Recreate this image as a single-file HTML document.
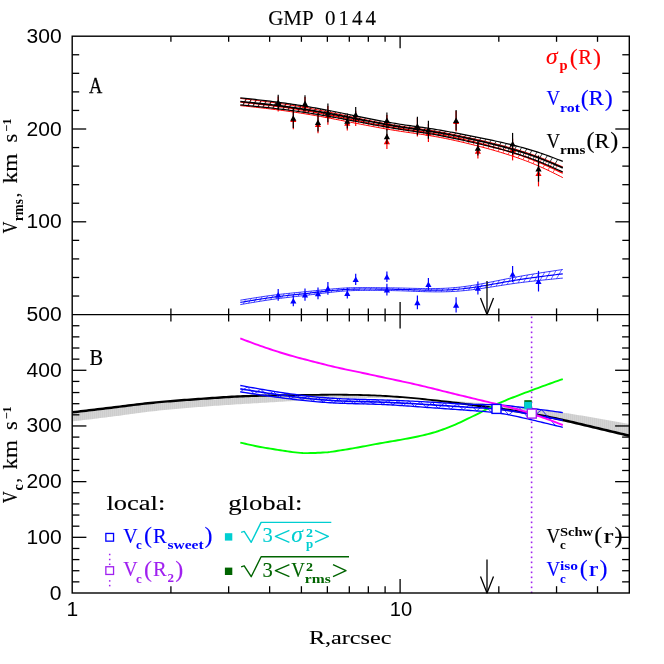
<!DOCTYPE html>
<html><head><meta charset="utf-8"><title>GMP 0144</title>
<style>html,body{margin:0;padding:0;background:#fff}svg{display:block;will-change:transform}</style>
</head><body>
<svg width="664" height="664" viewBox="0 0 664 664">
<rect width="664" height="664" fill="#fff"/>
<defs><pattern id="gp" width="2" height="2" patternUnits="userSpaceOnUse"><rect width="2" height="2" fill="#d6d6d6"/><rect width="1.2" height="2" fill="#cdcdcd"/></pattern><clipPath id="cb"><rect x="72.2" y="314.6" width="557.1" height="278.4"/></clipPath></defs>
<polygon points="72.2,412.3 75,411.97 77.8,411.65 80.6,411.32 83.4,411 86.2,410.67 89,410.34 91.8,410.01 94.6,409.68 97.4,409.35 100.19,409.01 102.99,408.68 105.79,408.34 108.59,408 111.39,407.66 114.19,407.32 116.99,406.97 119.79,406.63 122.59,406.28 125.39,405.92 128.19,405.57 130.99,405.22 133.79,404.87 136.59,404.53 139.39,404.19 142.19,403.86 144.99,403.54 147.79,403.24 150.59,402.94 153.39,402.66 156.18,402.38 158.98,402.12 161.78,401.87 164.58,401.63 167.38,401.39 170.18,401.17 172.98,400.94 175.78,400.72 178.58,400.51 181.38,400.29 184.18,400.08 186.98,399.87 189.78,399.66 192.58,399.45 195.38,399.25 198.18,399.04 200.98,398.84 203.78,398.64 206.58,398.44 209.38,398.24 212.17,398.05 214.97,397.86 217.77,397.67 220.57,397.49 223.37,397.31 226.17,397.14 228.97,396.97 231.77,396.81 234.57,396.66 237.37,396.52 240.17,396.39 242.97,396.27 245.77,396.16 248.57,396.06 251.37,395.97 254.17,395.88 256.97,395.8 259.77,395.73 262.57,395.66 265.37,395.6 268.16,395.55 270.96,395.5 273.76,395.45 276.56,395.4 279.36,395.36 282.16,395.32 284.96,395.27 287.76,395.23 290.56,395.19 293.36,395.15 296.16,395.11 298.96,395.06 301.76,395.02 304.56,394.98 307.36,394.94 310.16,394.9 312.96,394.86 315.76,394.83 318.56,394.8 321.36,394.77 324.15,394.75 326.95,394.73 329.75,394.71 332.55,394.7 335.35,394.7 338.15,394.7 340.95,394.71 343.75,394.73 346.55,394.75 349.35,394.78 352.15,394.82 354.95,394.86 357.75,394.92 360.55,394.98 363.35,395.05 366.15,395.14 368.95,395.23 371.75,395.33 374.55,395.45 377.35,395.57 380.14,395.71 382.94,395.86 385.74,396.02 388.54,396.19 391.34,396.37 394.14,396.56 396.94,396.77 399.74,396.98 402.54,397.2 405.34,397.43 408.14,397.67 410.94,397.92 413.74,398.18 416.54,398.44 419.34,398.71 422.14,398.99 424.94,399.28 427.74,399.57 430.54,399.87 433.34,400.18 436.13,400.49 438.93,400.8 441.73,401.12 444.53,401.45 447.33,401.78 450.13,402.12 452.93,402.46 455.73,402.8 458.53,403.15 461.33,403.51 464.13,403.87 466.93,404.23 469.73,404.6 472.53,404.97 475.33,405.34 478.13,405.72 480.93,406.1 483.73,406.49 486.53,406.87 489.33,407.26 492.12,407.65 494.92,408.05 497.72,408.44 500.52,408.84 503.32,409.24 506.12,409.65 508.92,410.06 511.72,410.48 514.52,410.9 517.32,411.34 520.12,411.78 522.92,412.23 525.72,412.69 528.52,413.17 531.32,413.66 534.12,414.16 536.92,414.67 539.72,415.2 542.52,415.74 545.32,416.29 548.11,416.86 550.91,417.43 553.71,418.02 556.51,418.62 559.31,419.23 562.11,419.85 564.91,420.48 567.71,421.11 570.51,421.76 573.31,422.41 576.11,423.07 578.91,423.74 581.71,424.41 584.51,425.08 587.31,425.75 590.11,426.42 592.91,427.1 595.71,427.77 598.51,428.44 601.31,429.11 604.1,429.77 606.9,430.43 609.7,431.1 612.5,431.76 615.3,432.41 618.1,433.07 620.9,433.73 623.7,434.39 626.5,435.04 629.3,435.7 629.3,424.1 626.5,423.57 623.7,423.04 620.9,422.51 618.1,421.99 615.3,421.46 612.5,420.94 609.7,420.43 606.9,419.91 604.1,419.41 601.31,418.91 598.51,418.41 595.71,417.92 592.91,417.44 590.11,416.97 587.31,416.5 584.51,416.04 581.71,415.58 578.91,415.13 576.11,414.68 573.31,414.24 570.51,413.8 567.71,413.36 564.91,412.93 562.11,412.49 559.31,412.06 556.51,411.63 553.71,411.2 550.91,410.78 548.11,410.36 545.32,409.95 542.52,409.55 539.72,409.15 536.92,408.77 534.12,408.4 531.32,408.04 528.52,407.69 525.72,407.36 522.92,407.04 520.12,406.73 517.32,406.44 514.52,406.15 511.72,405.87 508.92,405.59 506.12,405.33 503.32,405.06 500.52,404.81 497.72,404.55 494.92,404.3 492.12,404.06 489.33,403.81 486.53,403.57 483.73,403.33 480.93,403.09 478.13,402.86 475.33,402.63 472.53,402.4 469.73,402.18 466.93,401.96 464.13,401.74 461.33,401.53 458.53,401.33 455.73,401.12 452.93,400.93 450.13,400.73 447.33,400.55 444.53,400.37 441.73,400.19 438.93,400.02 436.13,399.85 433.34,399.69 430.54,399.54 427.74,399.39 424.94,399.24 422.14,399.11 419.34,398.98 416.54,398.85 413.74,398.74 410.94,398.63 408.14,398.53 405.34,398.44 402.54,398.35 399.74,398.28 396.94,398.21 394.14,398.15 391.34,398.1 388.54,398.06 385.74,398.03 382.94,398.01 380.14,398 377.35,398 374.55,398.01 371.75,398.03 368.95,398.06 366.15,398.1 363.35,398.14 360.55,398.2 357.75,398.26 354.95,398.33 352.15,398.41 349.35,398.49 346.55,398.58 343.75,398.67 340.95,398.77 338.15,398.88 335.35,398.99 332.55,399.1 329.75,399.22 326.95,399.34 324.15,399.46 321.36,399.59 318.56,399.72 315.76,399.85 312.96,399.99 310.16,400.13 307.36,400.27 304.56,400.41 301.76,400.56 298.96,400.71 296.16,400.86 293.36,401.01 290.56,401.17 287.76,401.33 284.96,401.48 282.16,401.64 279.36,401.8 276.56,401.97 273.76,402.13 270.96,402.3 268.16,402.46 265.37,402.63 262.57,402.8 259.77,402.97 256.97,403.14 254.17,403.32 251.37,403.49 248.57,403.66 245.77,403.84 242.97,404.01 240.17,404.19 237.37,404.37 234.57,404.54 231.77,404.72 228.97,404.9 226.17,405.09 223.37,405.27 220.57,405.46 217.77,405.65 214.97,405.85 212.17,406.04 209.38,406.25 206.58,406.45 203.78,406.66 200.98,406.88 198.18,407.09 195.38,407.32 192.58,407.54 189.78,407.77 186.98,408 184.18,408.24 181.38,408.48 178.58,408.72 175.78,408.97 172.98,409.22 170.18,409.48 167.38,409.75 164.58,410.02 161.78,410.3 158.98,410.59 156.18,410.89 153.39,411.2 150.59,411.53 147.79,411.87 144.99,412.22 142.19,412.58 139.39,412.95 136.59,413.33 133.79,413.71 130.99,414.1 128.19,414.48 125.39,414.87 122.59,415.25 119.79,415.63 116.99,416 114.19,416.37 111.39,416.73 108.59,417.08 105.79,417.43 102.99,417.78 100.19,418.12 97.4,418.46 94.6,418.79 91.8,419.13 89,419.46 86.2,419.78 83.4,420.11 80.6,420.43 77.8,420.76 75,421.08 72.2,421.4" fill="url(#gp)" stroke="none" stroke-width="0"/>
<g clip-path="url(#cb)">
<polygon points="72.2,411.05 75,410.73 77.8,410.4 80.6,410.07 83.4,409.75 86.2,409.42 89,409.09 91.8,408.77 94.6,408.44 97.4,408.11 100.19,407.77 102.99,407.44 105.79,407.1 108.59,406.76 111.39,406.42 114.19,406.08 116.99,405.74 119.79,405.39 122.59,405.04 125.39,404.69 128.19,404.34 130.99,403.99 133.79,403.64 136.59,403.3 139.39,402.96 142.19,402.64 144.99,402.32 147.79,402.01 150.59,401.71 153.39,401.43 156.18,401.16 158.98,400.9 161.78,400.65 164.58,400.41 167.38,400.17 170.18,399.95 172.98,399.72 175.78,399.51 178.58,399.29 181.38,399.08 184.18,398.87 186.98,398.65 189.78,398.45 192.58,398.24 195.38,398.03 198.18,397.83 200.98,397.63 203.78,397.43 206.58,397.23 209.38,397.03 212.17,396.84 214.97,396.65 217.77,396.46 220.57,396.28 223.37,396.1 226.17,395.93 228.97,395.77 231.77,395.61 234.57,395.46 237.37,395.32 240.17,395.19 242.97,395.09 245.77,394.99 248.57,394.9 251.37,394.82 254.17,394.75 256.97,394.69 259.77,394.63 262.57,394.58 265.37,394.53 268.16,394.49 270.96,394.45 273.76,394.42 276.56,394.38 279.36,394.35 282.16,394.33 284.96,394.3 287.76,394.27 290.56,394.24 293.36,394.22 296.16,394.19 298.96,394.16 301.76,394.12 304.56,394.08 307.36,394.04 310.16,394 312.96,393.96 315.76,393.93 318.56,393.9 321.36,393.87 324.15,393.85 326.95,393.83 329.75,393.81 332.55,393.8 335.35,393.8 338.15,393.8 340.95,393.81 343.75,393.83 346.55,393.85 349.35,393.88 352.15,393.92 354.95,393.96 357.75,394.02 360.55,394.08 363.35,394.15 366.15,394.24 368.95,394.33 371.75,394.43 374.55,394.55 377.35,394.67 380.14,394.81 382.94,394.96 385.74,395.12 388.54,395.29 391.34,395.47 394.14,395.66 396.94,395.87 399.74,396.08 402.54,396.3 405.34,396.53 408.14,396.77 410.94,397.02 413.74,397.28 416.54,397.54 419.34,397.81 422.14,398.08 424.94,398.36 427.74,398.64 430.54,398.92 433.34,399.22 436.13,399.51 438.93,399.82 441.73,400.13 444.53,400.44 447.33,400.76 450.13,401.08 452.93,401.41 455.73,401.75 458.53,402.09 461.33,402.43 464.13,402.78 466.93,403.13 469.73,403.48 472.53,403.84 475.33,404.2 478.13,404.57 480.93,404.94 483.73,405.31 486.53,405.68 489.33,406.06 492.12,406.44 494.92,406.82 497.72,407.2 500.52,407.59 503.32,407.99 506.12,408.4 508.92,408.81 511.72,409.22 514.52,409.64 517.32,410.07 520.12,410.51 522.92,410.96 525.72,411.43 528.52,411.9 531.32,412.38 534.12,412.88 536.92,413.4 539.72,413.92 542.52,414.46 545.32,415.01 548.11,415.57 550.91,416.15 553.71,416.73 556.51,417.33 559.31,417.93 562.11,418.55 564.91,419.18 567.71,419.82 570.51,420.46 573.31,421.11 576.11,421.77 578.91,422.43 581.71,423.1 584.51,423.77 587.31,424.44 590.11,425.11 592.91,425.78 595.71,426.45 598.51,427.12 601.31,427.78 604.1,428.45 606.9,429.11 609.7,429.77 612.5,430.43 615.3,431.08 618.1,431.74 620.9,432.39 623.7,433.05 626.5,433.7 629.3,434.36 629.3,437.04 626.5,436.38 623.7,435.73 620.9,435.07 618.1,434.41 615.3,433.75 612.5,433.09 609.7,432.42 606.9,431.76 604.1,431.09 601.31,430.43 598.51,429.76 595.71,429.09 592.91,428.41 590.11,427.74 587.31,427.06 584.51,426.39 581.71,425.72 578.91,425.05 576.11,424.38 573.31,423.72 570.51,423.06 567.71,422.41 564.91,421.77 562.11,421.14 559.31,420.52 556.51,419.91 553.71,419.31 550.91,418.72 548.11,418.14 545.32,417.57 542.52,417.02 539.72,416.48 536.92,415.95 534.12,415.43 531.32,414.93 528.52,414.44 525.72,413.96 522.92,413.5 520.12,413.04 517.32,412.6 514.52,412.16 511.72,411.74 508.92,411.32 506.12,410.9 503.32,410.5 500.52,410.09 497.72,409.68 494.92,409.28 492.12,408.87 489.33,408.47 486.53,408.06 483.73,407.67 480.93,407.27 478.13,406.88 475.33,406.49 472.53,406.1 469.73,405.72 466.93,405.34 464.13,404.96 461.33,404.59 458.53,404.22 455.73,403.86 452.93,403.5 450.13,403.15 447.33,402.8 444.53,402.46 441.73,402.12 438.93,401.78 436.13,401.46 433.34,401.13 430.54,400.82 427.74,400.51 424.94,400.2 422.14,399.9 419.34,399.61 416.54,399.34 413.74,399.08 410.94,398.82 408.14,398.57 405.34,398.33 402.54,398.1 399.74,397.88 396.94,397.67 394.14,397.46 391.34,397.27 388.54,397.09 385.74,396.92 382.94,396.76 380.14,396.61 377.35,396.47 374.55,396.35 371.75,396.23 368.95,396.13 366.15,396.04 363.35,395.95 360.55,395.88 357.75,395.82 354.95,395.76 352.15,395.72 349.35,395.68 346.55,395.65 343.75,395.63 340.95,395.61 338.15,395.6 335.35,395.6 332.55,395.6 329.75,395.61 326.95,395.63 324.15,395.65 321.36,395.67 318.56,395.7 315.76,395.73 312.96,395.76 310.16,395.8 307.36,395.84 304.56,395.88 301.76,395.92 298.96,395.97 296.16,396.03 293.36,396.08 290.56,396.14 287.76,396.19 284.96,396.25 282.16,396.3 279.36,396.36 276.56,396.42 273.76,396.48 270.96,396.54 268.16,396.61 265.37,396.68 262.57,396.75 259.77,396.83 256.97,396.92 254.17,397.01 251.37,397.11 248.57,397.22 245.77,397.33 242.97,397.46 240.17,397.59 237.37,397.72 234.57,397.87 231.77,398.02 228.97,398.18 226.17,398.34 223.37,398.51 220.57,398.69 217.77,398.88 214.97,399.07 212.17,399.26 209.38,399.45 206.58,399.65 203.78,399.85 200.98,400.05 198.18,400.25 195.38,400.46 192.58,400.67 189.78,400.88 186.98,401.09 184.18,401.3 181.38,401.51 178.58,401.73 175.78,401.94 172.98,402.16 170.18,402.39 167.38,402.62 164.58,402.85 161.78,403.1 158.98,403.35 156.18,403.61 153.39,403.88 150.59,404.17 147.79,404.46 144.99,404.77 142.19,405.09 139.39,405.42 136.59,405.76 133.79,406.1 130.99,406.45 128.19,406.8 125.39,407.16 122.59,407.51 119.79,407.86 116.99,408.21 114.19,408.56 111.39,408.9 108.59,409.24 105.79,409.58 102.99,409.92 100.19,410.26 97.4,410.59 94.6,410.92 91.8,411.25 89,411.58 86.2,411.91 83.4,412.24 80.6,412.57 77.8,412.9 75,413.22 72.2,413.55" fill="#000" stroke="none" stroke-width="0"/>
</g>
<polyline points="240.3,442.6 242.8,443.19 245.3,443.77 247.8,444.34 250.3,444.9 252.8,445.44 255.3,445.96 257.8,446.46 260.3,446.95 262.8,447.42 265.3,447.86 267.8,448.28 270.3,448.68 272.8,449.06 275.3,449.45 277.8,449.86 280.3,450.26 282.8,450.66 285.3,451.05 287.8,451.43 290.3,451.78 292.8,452.11 295.3,452.4 297.8,452.64 300.3,452.84 302.8,452.99 305.3,453.08 307.8,453.1 310.3,453.07 312.8,453.01 315.3,452.93 317.8,452.82 320.3,452.69 322.8,452.55 325.3,452.4 327.8,452.2 330.3,451.93 332.8,451.59 335.3,451.21 337.8,450.81 340.3,450.4 342.8,449.99 345.3,449.6 347.8,449.2 350.3,448.78 352.8,448.34 355.3,447.9 357.8,447.45 360.3,446.99 362.8,446.52 365.3,446.06 367.8,445.59 370.3,445.12 372.8,444.65 375.3,444.18 377.8,443.73 380.3,443.27 382.8,442.83 385.3,442.4 387.8,441.97 390.3,441.54 392.8,441.12 395.3,440.69 397.8,440.26 400.3,439.83 402.8,439.38 405.3,438.93 407.8,438.47 410.3,437.99 412.8,437.5 415.3,436.98 417.8,436.45 420.3,435.91 422.8,435.34 425.3,434.75 427.8,434.13 430.3,433.48 432.8,432.79 435.3,432.05 437.8,431.26 440.3,430.4 442.8,429.51 445.3,428.57 447.8,427.6 450.3,426.6 452.8,425.59 455.3,424.53 457.8,423.43 460.3,422.29 462.8,421.12 465.3,419.92 467.8,418.71 470.3,417.49 472.8,416.27 475.3,415.05 477.8,413.81 480.3,412.53 482.8,411.23 485.3,409.92 487.8,408.61 490.3,407.32 492.8,406.07 495.3,404.86 497.8,403.72 500.3,402.62 502.8,401.55 505.3,400.51 507.8,399.49 510.3,398.48 512.8,397.5 515.3,396.53 517.8,395.57 520.3,394.62 522.8,393.67 525.3,392.73 527.8,391.79 530.3,390.85 532.8,389.91 535.3,388.97 537.8,388.04 540.3,387.12 542.8,386.2 545.3,385.29 547.8,384.39 550.3,383.49 552.8,382.6 555.3,381.71 557.8,380.83 560.3,379.96 562.8,379.1" fill="none" stroke="#00ff00" stroke-width="1.9" stroke-linejoin="round"/>
<polyline points="240.3,391.9 247.34,386.76 254.15,393.96 260.73,389.13 267.11,395.84 273.29,391.25 279.3,397.52 285.15,393.1 290.86,399 296.45,394.68 301.95,400.29 307.36,396 312.69,401.38 317.97,397.1 323.19,402.26 328.36,397.96 333.48,402.92 338.55,398.6 343.58,403.36 348.56,399.04 353.49,403.66 358.39,399.35 363.26,403.9 368.12,399.6 372.98,404.15 377.87,399.84 382.79,404.52 387.78,400.14 392.87,405.04 398.06,400.52 403.39,405.72 408.87,400.99 414.49,406.51 420.26,401.56 426.16,407.37 432.18,402.25 438.29,408.23 444.45,403 450.68,409.09 456.97,403.71 463.36,409.96 469.9,404.26 476.69,410.93 483.83,404.55 491.47,412.22 499.75,405.05 508.78,414.79 518.65,406.98 529.52,419.35 541.69,409.73 555.44,425.53" fill="none" stroke="#0000ff" stroke-width="0.8" stroke-linejoin="round"/>
<polyline points="240.3,385.5 242.8,385.95 245.3,386.4 247.8,386.85 250.3,387.29 252.8,387.74 255.3,388.18 257.8,388.62 260.3,389.06 262.8,389.49 265.3,389.92 267.8,390.34 270.3,390.76 272.8,391.17 275.3,391.57 277.8,391.97 280.3,392.36 282.8,392.75 285.3,393.12 287.8,393.49 290.3,393.84 292.8,394.19 295.3,394.53 297.8,394.85 300.3,395.17 302.8,395.48 305.3,395.77 307.8,396.06 310.3,396.33 312.8,396.59 315.3,396.84 317.8,397.08 320.3,397.31 322.8,397.52 325.3,397.73 327.8,397.92 330.3,398.1 332.8,398.26 335.3,398.42 337.8,398.56 340.3,398.69 342.8,398.8 345.3,398.91 347.8,399.01 350.3,399.1 352.8,399.18 355.3,399.26 357.8,399.33 360.3,399.4 362.8,399.47 365.3,399.53 367.8,399.59 370.3,399.65 372.8,399.71 375.3,399.77 377.8,399.84 380.3,399.91 382.8,399.98 385.3,400.06 387.8,400.14 390.3,400.23 392.8,400.31 395.3,400.41 397.8,400.51 400.3,400.61 402.8,400.71 405.3,400.82 407.8,400.94 410.3,401.06 412.8,401.18 415.3,401.3 417.8,401.43 420.3,401.57 422.8,401.7 425.3,401.84 427.8,401.99 430.3,402.14 432.8,402.29 435.3,402.44 437.8,402.59 440.3,402.75 442.8,402.9 445.3,403.05 447.8,403.2 450.3,403.35 452.8,403.49 455.3,403.62 457.8,403.75 460.3,403.87 462.8,403.99 465.3,404.09 467.8,404.19 470.3,404.27 472.8,404.35 475.3,404.41 477.8,404.45 480.3,404.5 482.8,404.53 485.3,404.57 487.8,404.61 490.3,404.67 492.8,404.74 495.3,404.83 497.8,404.94 500.3,405.08 502.8,405.26 505.3,405.47 507.8,405.71 510.3,405.98 512.8,406.27 515.3,406.56 517.8,406.87 520.3,407.18 522.8,407.49 525.3,407.79 527.8,408.09 530.3,408.37 532.8,408.66 535.3,408.95 537.8,409.25 540.3,409.56 542.8,409.87 545.3,410.2 547.8,410.53 550.3,410.86 552.8,411.2 555.3,411.55 557.8,411.9 560.3,412.25 562.8,412.6" fill="none" stroke="#0000ff" stroke-width="1.35" stroke-linejoin="round"/>
<polyline points="240.3,391.9 242.8,392.27 245.3,392.65 247.8,393.02 250.3,393.39 252.8,393.76 255.3,394.13 257.8,394.5 260.3,394.86 262.8,395.23 265.3,395.59 267.8,395.94 270.3,396.29 272.8,396.64 275.3,396.98 277.8,397.32 280.3,397.66 282.8,397.99 285.3,398.31 287.8,398.63 290.3,398.94 292.8,399.24 295.3,399.54 297.8,399.83 300.3,400.11 302.8,400.38 305.3,400.65 307.8,400.9 310.3,401.15 312.8,401.39 315.3,401.61 317.8,401.83 320.3,402.03 322.8,402.23 325.3,402.41 327.8,402.58 330.3,402.74 332.8,402.88 335.3,403.02 337.8,403.13 340.3,403.24 342.8,403.34 345.3,403.42 347.8,403.5 350.3,403.58 352.8,403.64 355.3,403.71 357.8,403.77 360.3,403.83 362.8,403.88 365.3,403.94 367.8,404.01 370.3,404.08 372.8,404.15 375.3,404.23 377.8,404.32 380.3,404.41 382.8,404.52 385.3,404.64 387.8,404.76 390.3,404.9 392.8,405.04 395.3,405.19 397.8,405.35 400.3,405.51 402.8,405.67 405.3,405.85 407.8,406.02 410.3,406.2 412.8,406.38 415.3,406.57 417.8,406.75 420.3,406.93 422.8,407.12 425.3,407.3 427.8,407.49 430.3,407.67 432.8,407.84 435.3,408.02 437.8,408.2 440.3,408.37 442.8,408.54 445.3,408.72 447.8,408.89 450.3,409.06 452.8,409.23 455.3,409.4 457.8,409.58 460.3,409.75 462.8,409.92 465.3,410.1 467.8,410.28 470.3,410.46 472.8,410.64 475.3,410.82 477.8,411.01 480.3,411.2 482.8,411.4 485.3,411.62 487.8,411.85 490.3,412.1 492.8,412.37 495.3,412.66 497.8,412.99 500.3,413.34 502.8,413.73 505.3,414.15 507.8,414.61 510.3,415.09 512.8,415.59 515.3,416.12 517.8,416.67 520.3,417.22 522.8,417.79 525.3,418.37 527.8,418.95 530.3,419.53 532.8,420.12 535.3,420.71 537.8,421.3 540.3,421.9 542.8,422.5 545.3,423.09 547.8,423.69 550.3,424.29 552.8,424.89 555.3,425.49 557.8,426.1 560.3,426.7 562.8,427.3" fill="none" stroke="#0000ff" stroke-width="1.35" stroke-linejoin="round"/>
<polyline points="240.3,388.9 242.8,389.29 245.3,389.69 247.8,390.08 250.3,390.48 252.8,390.87 255.3,391.26 257.8,391.64 260.3,392.03 262.8,392.41 265.3,392.79 267.8,393.17 270.3,393.54 272.8,393.91 275.3,394.27 277.8,394.63 280.3,394.98 282.8,395.33 285.3,395.67 287.8,396.01 290.3,396.34 292.8,396.66 295.3,396.98 297.8,397.29 300.3,397.59 302.8,397.88 305.3,398.16 307.8,398.43 310.3,398.7 312.8,398.95 315.3,399.19 317.8,399.43 320.3,399.65 322.8,399.86 325.3,400.06 327.8,400.24 330.3,400.41 332.8,400.57 335.3,400.72 337.8,400.85 340.3,400.97 342.8,401.07 345.3,401.17 347.8,401.26 350.3,401.34 352.8,401.41 355.3,401.48 357.8,401.54 360.3,401.6 362.8,401.66 365.3,401.72 367.8,401.78 370.3,401.84 372.8,401.9 375.3,401.96 377.8,402.03 380.3,402.11 382.8,402.19 385.3,402.28 387.8,402.38 390.3,402.48 392.8,402.59 395.3,402.71 397.8,402.83 400.3,402.96 402.8,403.09 405.3,403.22 407.8,403.36 410.3,403.5 412.8,403.65 415.3,403.8 417.8,403.95 420.3,404.11 422.8,404.27 425.3,404.43 427.8,404.59 430.3,404.75 432.8,404.91 435.3,405.08 437.8,405.25 440.3,405.41 442.8,405.58 445.3,405.74 447.8,405.91 450.3,406.07 452.8,406.24 455.3,406.4 457.8,406.56 460.3,406.72 462.8,406.88 465.3,407.03 467.8,407.18 470.3,407.33 472.8,407.48 475.3,407.62 477.8,407.76 480.3,407.89 482.8,408.04 485.3,408.18 487.8,408.34 490.3,408.52 492.8,408.7 495.3,408.91 497.8,409.15 500.3,409.41 502.8,409.7 505.3,410.02 507.8,410.37 510.3,410.74 512.8,411.13 515.3,411.54 517.8,411.97 520.3,412.4 522.8,412.84 525.3,413.28 527.8,413.73 530.3,414.17 532.8,414.62 535.3,415.07 537.8,415.53 540.3,415.98 542.8,416.44 545.3,416.91 547.8,417.37 550.3,417.84 552.8,418.31 555.3,418.78 557.8,419.25 560.3,419.73 562.8,420.2" fill="none" stroke="#0000ff" stroke-width="1.6" stroke-linejoin="round"/>
<polyline points="240.3,338.4 242.8,339.36 245.3,340.32 247.8,341.26 250.3,342.19 252.8,343.11 255.3,344.02 257.8,344.92 260.3,345.8 262.8,346.66 265.3,347.53 267.8,348.38 270.3,349.23 272.8,350.07 275.3,350.89 277.8,351.7 280.3,352.5 282.8,353.27 285.3,354.03 287.8,354.77 290.3,355.49 292.8,356.19 295.3,356.87 297.8,357.55 300.3,358.21 302.8,358.87 305.3,359.52 307.8,360.16 310.3,360.81 312.8,361.46 315.3,362.11 317.8,362.76 320.3,363.4 322.8,364.04 325.3,364.67 327.8,365.3 330.3,365.92 332.8,366.52 335.3,367.11 337.8,367.69 340.3,368.25 342.8,368.8 345.3,369.33 347.8,369.85 350.3,370.37 352.8,370.88 355.3,371.39 357.8,371.91 360.3,372.43 362.8,372.96 365.3,373.5 367.8,374.04 370.3,374.58 372.8,375.13 375.3,375.68 377.8,376.22 380.3,376.77 382.8,377.3 385.3,377.84 387.8,378.37 390.3,378.9 392.8,379.43 395.3,379.96 397.8,380.49 400.3,381.02 402.8,381.56 405.3,382.09 407.8,382.64 410.3,383.19 412.8,383.75 415.3,384.32 417.8,384.89 420.3,385.48 422.8,386.08 425.3,386.68 427.8,387.3 430.3,387.92 432.8,388.54 435.3,389.17 437.8,389.79 440.3,390.42 442.8,391.05 445.3,391.67 447.8,392.29 450.3,392.91 452.8,393.52 455.3,394.13 457.8,394.73 460.3,395.34 462.8,395.94 465.3,396.54 467.8,397.14 470.3,397.74 472.8,398.34 475.3,398.95 477.8,399.55 480.3,400.15 482.8,400.75 485.3,401.35 487.8,401.95 490.3,402.56 492.8,403.16 495.3,403.75 497.8,404.36 500.3,404.97 502.8,405.6 505.3,406.24 507.8,406.88 510.3,407.52 512.8,408.18 515.3,408.84 517.8,409.52 520.3,410.21 522.8,410.93 525.3,411.66 527.8,412.42 530.3,413.22 532.8,414.04 535.3,414.88 537.8,415.75 540.3,416.63 542.8,417.52 545.3,418.41 547.8,419.31 550.3,420.22 552.8,421.15 555.3,422.09 557.8,423.05 560.3,424.02 562.8,425" fill="none" stroke="#ff00ff" stroke-width="1.9" stroke-linejoin="round"/>
<rect x="530.8" y="316.55" width="1.6" height="1.6" fill="#a020f0"/>
<rect x="530.8" y="321.55" width="1.6" height="1.6" fill="#a020f0"/>
<rect x="530.8" y="326.55" width="1.6" height="1.6" fill="#a020f0"/>
<rect x="530.8" y="331.55" width="1.6" height="1.6" fill="#a020f0"/>
<rect x="530.8" y="336.55" width="1.6" height="1.6" fill="#a020f0"/>
<rect x="530.8" y="341.55" width="1.6" height="1.6" fill="#a020f0"/>
<rect x="530.8" y="346.55" width="1.6" height="1.6" fill="#a020f0"/>
<rect x="530.8" y="351.55" width="1.6" height="1.6" fill="#a020f0"/>
<rect x="530.8" y="356.55" width="1.6" height="1.6" fill="#a020f0"/>
<rect x="530.8" y="361.55" width="1.6" height="1.6" fill="#a020f0"/>
<rect x="530.8" y="366.55" width="1.6" height="1.6" fill="#a020f0"/>
<rect x="530.8" y="371.55" width="1.6" height="1.6" fill="#a020f0"/>
<rect x="530.8" y="376.55" width="1.6" height="1.6" fill="#a020f0"/>
<rect x="530.8" y="381.55" width="1.6" height="1.6" fill="#a020f0"/>
<rect x="530.8" y="386.55" width="1.6" height="1.6" fill="#a020f0"/>
<rect x="530.8" y="391.55" width="1.6" height="1.6" fill="#a020f0"/>
<rect x="530.8" y="396.55" width="1.6" height="1.6" fill="#a020f0"/>
<rect x="530.8" y="401.55" width="1.6" height="1.6" fill="#a020f0"/>
<rect x="530.8" y="406.55" width="1.6" height="1.6" fill="#a020f0"/>
<rect x="530.8" y="411.55" width="1.6" height="1.6" fill="#a020f0"/>
<rect x="530.8" y="416.55" width="1.6" height="1.6" fill="#a020f0"/>
<rect x="530.8" y="421.55" width="1.6" height="1.6" fill="#a020f0"/>
<rect x="530.8" y="426.55" width="1.6" height="1.6" fill="#a020f0"/>
<rect x="530.8" y="431.55" width="1.6" height="1.6" fill="#a020f0"/>
<rect x="530.8" y="436.55" width="1.6" height="1.6" fill="#a020f0"/>
<rect x="530.8" y="441.55" width="1.6" height="1.6" fill="#a020f0"/>
<rect x="530.8" y="446.55" width="1.6" height="1.6" fill="#a020f0"/>
<rect x="530.8" y="451.55" width="1.6" height="1.6" fill="#a020f0"/>
<rect x="530.8" y="456.55" width="1.6" height="1.6" fill="#a020f0"/>
<rect x="530.8" y="461.55" width="1.6" height="1.6" fill="#a020f0"/>
<rect x="530.8" y="466.55" width="1.6" height="1.6" fill="#a020f0"/>
<rect x="530.8" y="471.55" width="1.6" height="1.6" fill="#a020f0"/>
<rect x="530.8" y="476.55" width="1.6" height="1.6" fill="#a020f0"/>
<rect x="530.8" y="481.55" width="1.6" height="1.6" fill="#a020f0"/>
<rect x="530.8" y="486.55" width="1.6" height="1.6" fill="#a020f0"/>
<rect x="530.8" y="491.55" width="1.6" height="1.6" fill="#a020f0"/>
<rect x="530.8" y="496.55" width="1.6" height="1.6" fill="#a020f0"/>
<rect x="530.8" y="501.55" width="1.6" height="1.6" fill="#a020f0"/>
<rect x="530.8" y="506.55" width="1.6" height="1.6" fill="#a020f0"/>
<rect x="530.8" y="511.55" width="1.6" height="1.6" fill="#a020f0"/>
<rect x="530.8" y="516.55" width="1.6" height="1.6" fill="#a020f0"/>
<rect x="530.8" y="521.55" width="1.6" height="1.6" fill="#a020f0"/>
<rect x="530.8" y="526.55" width="1.6" height="1.6" fill="#a020f0"/>
<rect x="530.8" y="531.55" width="1.6" height="1.6" fill="#a020f0"/>
<rect x="530.8" y="536.55" width="1.6" height="1.6" fill="#a020f0"/>
<rect x="530.8" y="541.55" width="1.6" height="1.6" fill="#a020f0"/>
<rect x="530.8" y="546.55" width="1.6" height="1.6" fill="#a020f0"/>
<rect x="530.8" y="551.55" width="1.6" height="1.6" fill="#a020f0"/>
<rect x="530.8" y="556.55" width="1.6" height="1.6" fill="#a020f0"/>
<rect x="530.8" y="561.55" width="1.6" height="1.6" fill="#a020f0"/>
<rect x="530.8" y="566.55" width="1.6" height="1.6" fill="#a020f0"/>
<rect x="530.8" y="571.55" width="1.6" height="1.6" fill="#a020f0"/>
<rect x="530.8" y="576.55" width="1.6" height="1.6" fill="#a020f0"/>
<rect x="530.8" y="581.55" width="1.6" height="1.6" fill="#a020f0"/>
<rect x="530.8" y="586.55" width="1.6" height="1.6" fill="#a020f0"/>
<rect x="530.8" y="591.55" width="1.6" height="1.6" fill="#a020f0"/>
<rect x="524.3" y="400.2" width="7.5" height="7.5" fill="#006400"/>
<rect x="524.3" y="401.8" width="7.5" height="7.5" fill="#00ced1"/>
<rect x="492" y="404.4" width="9" height="9" fill="#fff" stroke="#0000ff" stroke-width="1.4"/>
<rect x="527.3" y="409.1" width="9" height="9" fill="#fff" stroke="#a020f0" stroke-width="1.4"/>
<line x1="242.8" y1="105.88" x2="246.38" y2="99.14" stroke="#ff0000" stroke-width="0.7"/>
<line x1="247.8" y1="106.4" x2="251.35" y2="99.73" stroke="#ff0000" stroke-width="0.7"/>
<line x1="252.8" y1="106.94" x2="256.32" y2="100.34" stroke="#ff0000" stroke-width="0.7"/>
<line x1="257.8" y1="107.49" x2="261.28" y2="100.96" stroke="#ff0000" stroke-width="0.7"/>
<line x1="262.8" y1="108.05" x2="266.25" y2="101.6" stroke="#ff0000" stroke-width="0.7"/>
<line x1="267.8" y1="108.64" x2="271.22" y2="102.26" stroke="#ff0000" stroke-width="0.7"/>
<line x1="272.8" y1="109.24" x2="276.18" y2="102.94" stroke="#ff0000" stroke-width="0.7"/>
<line x1="277.8" y1="109.87" x2="281.15" y2="103.65" stroke="#ff0000" stroke-width="0.7"/>
<line x1="282.8" y1="110.53" x2="286.12" y2="104.39" stroke="#ff0000" stroke-width="0.7"/>
<line x1="287.8" y1="111.22" x2="291.08" y2="105.16" stroke="#ff0000" stroke-width="0.7"/>
<line x1="292.8" y1="111.93" x2="296.05" y2="105.96" stroke="#ff0000" stroke-width="0.7"/>
<line x1="297.8" y1="112.68" x2="301.02" y2="106.79" stroke="#ff0000" stroke-width="0.7"/>
<line x1="302.8" y1="113.46" x2="305.98" y2="107.65" stroke="#ff0000" stroke-width="0.7"/>
<line x1="307.8" y1="114.27" x2="310.95" y2="108.54" stroke="#ff0000" stroke-width="0.7"/>
<line x1="312.8" y1="115.11" x2="315.91" y2="109.47" stroke="#ff0000" stroke-width="0.7"/>
<line x1="317.8" y1="115.98" x2="320.88" y2="110.43" stroke="#ff0000" stroke-width="0.7"/>
<line x1="322.8" y1="116.88" x2="325.84" y2="111.41" stroke="#ff0000" stroke-width="0.7"/>
<line x1="327.8" y1="117.81" x2="330.8" y2="112.43" stroke="#ff0000" stroke-width="0.7"/>
<line x1="332.8" y1="118.76" x2="335.76" y2="113.46" stroke="#ff0000" stroke-width="0.7"/>
<line x1="337.8" y1="119.74" x2="340.72" y2="114.51" stroke="#ff0000" stroke-width="0.7"/>
<line x1="342.8" y1="120.72" x2="345.68" y2="115.57" stroke="#ff0000" stroke-width="0.7"/>
<line x1="347.8" y1="121.7" x2="350.64" y2="116.62" stroke="#ff0000" stroke-width="0.7"/>
<line x1="352.8" y1="122.69" x2="355.61" y2="117.66" stroke="#ff0000" stroke-width="0.7"/>
<line x1="357.8" y1="123.66" x2="360.57" y2="118.7" stroke="#ff0000" stroke-width="0.7"/>
<line x1="362.8" y1="124.63" x2="365.54" y2="119.72" stroke="#ff0000" stroke-width="0.7"/>
<line x1="367.8" y1="125.59" x2="370.5" y2="120.72" stroke="#ff0000" stroke-width="0.7"/>
<line x1="372.8" y1="126.53" x2="375.48" y2="121.71" stroke="#ff0000" stroke-width="0.7"/>
<line x1="377.8" y1="127.46" x2="380.45" y2="122.66" stroke="#ff0000" stroke-width="0.7"/>
<line x1="382.8" y1="128.36" x2="385.43" y2="123.58" stroke="#ff0000" stroke-width="0.7"/>
<line x1="387.8" y1="129.24" x2="390.42" y2="124.47" stroke="#ff0000" stroke-width="0.7"/>
<line x1="392.8" y1="130.08" x2="395.4" y2="125.3" stroke="#ff0000" stroke-width="0.7"/>
<line x1="397.8" y1="130.89" x2="400.4" y2="126.09" stroke="#ff0000" stroke-width="0.7"/>
<line x1="402.8" y1="131.65" x2="405.4" y2="126.82" stroke="#ff0000" stroke-width="0.7"/>
<line x1="407.8" y1="132.38" x2="410.41" y2="127.52" stroke="#ff0000" stroke-width="0.7"/>
<line x1="412.8" y1="133.09" x2="415.42" y2="128.2" stroke="#ff0000" stroke-width="0.7"/>
<line x1="417.8" y1="133.8" x2="420.44" y2="128.88" stroke="#ff0000" stroke-width="0.7"/>
<line x1="422.8" y1="134.54" x2="425.46" y2="129.59" stroke="#ff0000" stroke-width="0.7"/>
<line x1="427.8" y1="135.31" x2="430.49" y2="130.34" stroke="#ff0000" stroke-width="0.7"/>
<line x1="432.8" y1="136.14" x2="435.52" y2="131.15" stroke="#ff0000" stroke-width="0.7"/>
<line x1="437.8" y1="137.03" x2="440.55" y2="132.02" stroke="#ff0000" stroke-width="0.7"/>
<line x1="442.8" y1="137.98" x2="445.58" y2="132.93" stroke="#ff0000" stroke-width="0.7"/>
<line x1="447.8" y1="138.99" x2="450.62" y2="133.9" stroke="#ff0000" stroke-width="0.7"/>
<line x1="452.8" y1="140.05" x2="455.66" y2="134.9" stroke="#ff0000" stroke-width="0.7"/>
<line x1="457.8" y1="141.16" x2="460.71" y2="135.94" stroke="#ff0000" stroke-width="0.7"/>
<line x1="462.8" y1="142.31" x2="465.76" y2="137.02" stroke="#ff0000" stroke-width="0.7"/>
<line x1="467.8" y1="143.5" x2="470.82" y2="138.12" stroke="#ff0000" stroke-width="0.7"/>
<line x1="472.8" y1="144.73" x2="475.89" y2="139.24" stroke="#ff0000" stroke-width="0.7"/>
<line x1="477.8" y1="145.99" x2="480.96" y2="140.39" stroke="#ff0000" stroke-width="0.7"/>
<line x1="482.8" y1="147.29" x2="486.04" y2="141.57" stroke="#ff0000" stroke-width="0.7"/>
<line x1="487.8" y1="148.64" x2="491.13" y2="142.79" stroke="#ff0000" stroke-width="0.7"/>
<line x1="492.8" y1="150.04" x2="496.22" y2="144.05" stroke="#ff0000" stroke-width="0.7"/>
<line x1="497.8" y1="151.49" x2="501.32" y2="145.36" stroke="#ff0000" stroke-width="0.7"/>
<line x1="502.8" y1="153" x2="506.42" y2="146.72" stroke="#ff0000" stroke-width="0.7"/>
<line x1="507.8" y1="154.57" x2="511.54" y2="148.14" stroke="#ff0000" stroke-width="0.7"/>
<line x1="512.8" y1="156.2" x2="516.65" y2="149.62" stroke="#ff0000" stroke-width="0.7"/>
<line x1="517.8" y1="157.91" x2="521.78" y2="151.17" stroke="#ff0000" stroke-width="0.7"/>
<line x1="522.8" y1="159.69" x2="526.9" y2="152.8" stroke="#ff0000" stroke-width="0.7"/>
<line x1="527.8" y1="161.57" x2="532.04" y2="154.52" stroke="#ff0000" stroke-width="0.7"/>
<line x1="532.8" y1="163.55" x2="537.18" y2="156.36" stroke="#ff0000" stroke-width="0.7"/>
<line x1="537.8" y1="165.64" x2="542.33" y2="158.31" stroke="#ff0000" stroke-width="0.7"/>
<line x1="542.8" y1="167.86" x2="547.48" y2="160.38" stroke="#ff0000" stroke-width="0.7"/>
<line x1="547.8" y1="170.2" x2="552.65" y2="162.53" stroke="#ff0000" stroke-width="0.7"/>
<line x1="552.8" y1="172.62" x2="557.81" y2="164.74" stroke="#ff0000" stroke-width="0.7"/>
<polyline points="240.3,98.41 242.8,98.71 245.3,99.01 247.8,99.3 250.3,99.6 252.8,99.91 255.3,100.21 257.8,100.52 260.3,100.84 262.8,101.15 265.3,101.48 267.8,101.8 270.3,102.14 272.8,102.47 275.3,102.82 277.8,103.17 280.3,103.53 282.8,103.89 285.3,104.27 287.8,104.65 290.3,105.04 292.8,105.43 295.3,105.83 297.8,106.25 300.3,106.66 302.8,107.09 305.3,107.53 307.8,107.97 310.3,108.42 312.8,108.88 315.3,109.35 317.8,109.83 320.3,110.31 322.8,110.8 325.3,111.3 327.8,111.81 330.3,112.32 332.8,112.84 335.3,113.36 337.8,113.89 340.3,114.42 342.8,114.95 345.3,115.48 347.8,116.02 350.3,116.55 352.8,117.07 355.3,117.6 357.8,118.12 360.3,118.64 362.8,119.16 365.3,119.67 367.8,120.18 370.3,120.68 372.8,121.18 375.3,121.67 377.8,122.16 380.3,122.63 382.8,123.1 385.3,123.56 387.8,124.01 390.3,124.45 392.8,124.87 395.3,125.29 397.8,125.69 400.3,126.07 402.8,126.45 405.3,126.81 407.8,127.16 410.3,127.5 412.8,127.85 415.3,128.18 417.8,128.52 420.3,128.87 422.8,129.21 425.3,129.57 427.8,129.93 430.3,130.31 432.8,130.71 435.3,131.12 437.8,131.54 440.3,131.97 442.8,132.42 445.3,132.88 447.8,133.35 450.3,133.83 452.8,134.32 455.3,134.83 457.8,135.34 460.3,135.86 462.8,136.38 465.3,136.92 467.8,137.46 470.3,138 472.8,138.55 475.3,139.11 477.8,139.67 480.3,140.24 482.8,140.81 485.3,141.39 487.8,141.99 490.3,142.59 492.8,143.2 495.3,143.82 497.8,144.45 500.3,145.09 502.8,145.75 505.3,146.42 507.8,147.1 510.3,147.79 512.8,148.5 515.3,149.22 517.8,149.96 520.3,150.71 522.8,151.48 525.3,152.28 527.8,153.09 530.3,153.92 532.8,154.79 535.3,155.67 537.8,156.58 540.3,157.53 542.8,158.5 545.3,159.49 547.8,160.51 550.3,161.54 552.8,162.59 555.3,163.66 557.8,164.74 560.3,165.82 562.8,166.91" fill="none" stroke="#ff0000" stroke-width="1" stroke-linejoin="round"/>
<polyline points="240.3,105.61 242.8,105.88 245.3,106.14 247.8,106.4 250.3,106.67 252.8,106.94 255.3,107.21 257.8,107.49 260.3,107.77 262.8,108.05 265.3,108.34 267.8,108.64 270.3,108.94 272.8,109.24 275.3,109.55 277.8,109.87 280.3,110.2 282.8,110.53 285.3,110.87 287.8,111.22 290.3,111.57 292.8,111.93 295.3,112.3 297.8,112.68 300.3,113.07 302.8,113.46 305.3,113.86 307.8,114.27 310.3,114.68 312.8,115.11 315.3,115.54 317.8,115.98 320.3,116.43 322.8,116.88 325.3,117.34 327.8,117.81 330.3,118.29 332.8,118.76 335.3,119.25 337.8,119.74 340.3,120.23 342.8,120.72 345.3,121.21 347.8,121.7 350.3,122.2 352.8,122.69 355.3,123.18 357.8,123.66 360.3,124.15 362.8,124.63 365.3,125.11 367.8,125.59 370.3,126.06 372.8,126.53 375.3,127 377.8,127.46 380.3,127.91 382.8,128.36 385.3,128.81 387.8,129.24 390.3,129.67 392.8,130.08 395.3,130.49 397.8,130.89 400.3,131.27 402.8,131.65 405.3,132.02 407.8,132.38 410.3,132.74 412.8,133.09 415.3,133.45 417.8,133.8 420.3,134.17 422.8,134.54 425.3,134.92 427.8,135.31 430.3,135.72 432.8,136.14 435.3,136.58 437.8,137.03 440.3,137.5 442.8,137.98 445.3,138.48 447.8,138.99 450.3,139.51 452.8,140.05 455.3,140.6 457.8,141.16 460.3,141.73 462.8,142.31 465.3,142.9 467.8,143.5 470.3,144.11 472.8,144.73 475.3,145.36 477.8,145.99 480.3,146.64 482.8,147.29 485.3,147.96 487.8,148.64 490.3,149.33 492.8,150.04 495.3,150.76 497.8,151.49 500.3,152.24 502.8,153 505.3,153.78 507.8,154.57 510.3,155.38 512.8,156.2 515.3,157.05 517.8,157.91 520.3,158.79 522.8,159.69 525.3,160.62 527.8,161.57 530.3,162.54 532.8,163.55 535.3,164.58 537.8,165.64 540.3,166.74 542.8,167.86 545.3,169.02 547.8,170.2 550.3,171.4 552.8,172.62 555.3,173.85 557.8,175.09 560.3,176.35 562.8,177.61" fill="none" stroke="#ff0000" stroke-width="1" stroke-linejoin="round"/>
<polyline points="240.3,102.01 242.8,102.29 245.3,102.57 247.8,102.84 250.3,103.12 252.8,103.41 255.3,103.69 257.8,103.98 260.3,104.28 262.8,104.57 265.3,104.88 267.8,105.18 270.3,105.5 272.8,105.81 275.3,106.14 277.8,106.47 280.3,106.81 282.8,107.16 285.3,107.51 287.8,107.87 290.3,108.24 292.8,108.62 295.3,109 297.8,109.39 300.3,109.79 302.8,110.2 305.3,110.61 307.8,111.04 310.3,111.47 312.8,111.91 315.3,112.36 317.8,112.81 320.3,113.28 322.8,113.75 325.3,114.23 327.8,114.71 330.3,115.2 332.8,115.7 335.3,116.2 337.8,116.71 340.3,117.22 342.8,117.73 345.3,118.24 347.8,118.75 350.3,119.26 352.8,119.77 355.3,120.27 357.8,120.78 360.3,121.28 362.8,121.78 365.3,122.28 367.8,122.77 370.3,123.26 372.8,123.74 375.3,124.22 377.8,124.69 380.3,125.16 382.8,125.62 385.3,126.07 387.8,126.51 390.3,126.95 392.8,127.37 395.3,127.78 397.8,128.19 400.3,128.57 402.8,128.95 405.3,129.32 407.8,129.68 410.3,130.03 412.8,130.38 415.3,130.73 417.8,131.08 420.3,131.43 422.8,131.79 425.3,132.15 427.8,132.53 430.3,132.91 432.8,133.32 435.3,133.73 437.8,134.16 440.3,134.6 442.8,135.06 445.3,135.52 447.8,136.01 450.3,136.5 452.8,137.01 455.3,137.53 457.8,138.06 460.3,138.61 462.8,139.17 465.3,139.74 467.8,140.32 470.3,140.91 472.8,141.51 475.3,142.13 477.8,142.75 480.3,143.39 482.8,144.03 485.3,144.69 487.8,145.37 490.3,146.05 492.8,146.75 495.3,147.46 497.8,148.18 500.3,148.92 502.8,149.67 505.3,150.43 507.8,151.21 510.3,152 512.8,152.8 515.3,153.62 517.8,154.45 520.3,155.3 522.8,156.16 525.3,157.05 527.8,157.96 530.3,158.89 532.8,159.85 535.3,160.84 537.8,161.86 540.3,162.9 542.8,163.98 545.3,165.08 547.8,166.21 550.3,167.36 552.8,168.53 555.3,169.71 557.8,170.9 560.3,172.1 562.8,173.31" fill="none" stroke="#ff0000" stroke-width="1.2" stroke-linejoin="round"/>
<line x1="278.2" y1="96.53" x2="278.2" y2="111.53" stroke="#ff0000" stroke-width="1.2"/>
<polygon points="275.1,106.83 281.3,106.83 278.2,101.23" fill="#ff0000" stroke="none" stroke-width="0"/>
<line x1="293.3" y1="109.38" x2="293.3" y2="129.18" stroke="#ff0000" stroke-width="1.2"/>
<polygon points="290.2,122.08 296.4,122.08 293.3,116.48" fill="#ff0000" stroke="none" stroke-width="0"/>
<line x1="305" y1="96.95" x2="305" y2="113.35" stroke="#ff0000" stroke-width="1.2"/>
<polygon points="301.9,107.95 308.1,107.95 305,102.35" fill="#ff0000" stroke="none" stroke-width="0"/>
<line x1="318" y1="115.17" x2="318" y2="133.37" stroke="#ff0000" stroke-width="1.2"/>
<polygon points="314.9,127.07 321.1,127.07 318,121.47" fill="#ff0000" stroke="none" stroke-width="0"/>
<line x1="327.9" y1="105.92" x2="327.9" y2="124.72" stroke="#ff0000" stroke-width="1.2"/>
<polygon points="324.8,118.12 331,118.12 327.9,112.52" fill="#ff0000" stroke="none" stroke-width="0"/>
<line x1="347.3" y1="115.59" x2="347.3" y2="130.39" stroke="#ff0000" stroke-width="1.2"/>
<polygon points="344.2,125.79 350.4,125.79 347.3,120.19" fill="#ff0000" stroke="none" stroke-width="0"/>
<line x1="355.7" y1="110.84" x2="355.7" y2="126.04" stroke="#ff0000" stroke-width="1.2"/>
<polygon points="352.6,121.24 358.8,121.24 355.7,115.64" fill="#ff0000" stroke="none" stroke-width="0"/>
<line x1="386.9" y1="114.92" x2="386.9" y2="130.52" stroke="#ff0000" stroke-width="1.2"/>
<polygon points="383.8,125.52 390,125.52 386.9,119.92" fill="#ff0000" stroke="none" stroke-width="0"/>
<line x1="386.9" y1="133.76" x2="386.9" y2="148.96" stroke="#ff0000" stroke-width="1.2"/>
<polygon points="383.8,144.16 390,144.16 386.9,138.56" fill="#ff0000" stroke="none" stroke-width="0"/>
<line x1="417.4" y1="117.9" x2="417.4" y2="136.5" stroke="#ff0000" stroke-width="1.2"/>
<polygon points="414.3,130 420.5,130 417.4,124.4" fill="#ff0000" stroke="none" stroke-width="0"/>
<line x1="428.4" y1="124.02" x2="428.4" y2="142.02" stroke="#ff0000" stroke-width="1.2"/>
<polygon points="425.3,135.82 431.5,135.82 428.4,130.22" fill="#ff0000" stroke="none" stroke-width="0"/>
<line x1="456.1" y1="111.04" x2="456.1" y2="131.44" stroke="#ff0000" stroke-width="1.2"/>
<polygon points="453,124.04 459.2,124.04 456.1,118.44" fill="#ff0000" stroke="none" stroke-width="0"/>
<line x1="477.9" y1="143.34" x2="477.9" y2="158.54" stroke="#ff0000" stroke-width="1.2"/>
<polygon points="474.8,153.74 481,153.74 477.9,148.14" fill="#ff0000" stroke="none" stroke-width="0"/>
<line x1="512.6" y1="138.6" x2="512.6" y2="160.4" stroke="#ff0000" stroke-width="1.2"/>
<polygon points="509.5,152.3 515.7,152.3 512.6,146.7" fill="#ff0000" stroke="none" stroke-width="0"/>
<line x1="538.5" y1="160.17" x2="538.5" y2="186.37" stroke="#ff0000" stroke-width="1.2"/>
<polygon points="535.4,176.07 541.6,176.07 538.5,170.47" fill="#ff0000" stroke="none" stroke-width="0"/>
<line x1="242.8" y1="105.14" x2="246.33" y2="98.46" stroke="#000" stroke-width="0.8"/>
<line x1="247.8" y1="105.62" x2="251.3" y2="99.01" stroke="#000" stroke-width="0.8"/>
<line x1="252.8" y1="106.11" x2="256.27" y2="99.56" stroke="#000" stroke-width="0.8"/>
<line x1="257.8" y1="106.61" x2="261.23" y2="100.13" stroke="#000" stroke-width="0.8"/>
<line x1="262.8" y1="107.12" x2="266.2" y2="100.72" stroke="#000" stroke-width="0.8"/>
<line x1="267.8" y1="107.65" x2="271.17" y2="101.33" stroke="#000" stroke-width="0.8"/>
<line x1="272.8" y1="108.2" x2="276.13" y2="101.96" stroke="#000" stroke-width="0.8"/>
<line x1="277.8" y1="108.78" x2="281.1" y2="102.62" stroke="#000" stroke-width="0.8"/>
<line x1="282.8" y1="109.38" x2="286.07" y2="103.31" stroke="#000" stroke-width="0.8"/>
<line x1="287.8" y1="110.02" x2="291.03" y2="104.02" stroke="#000" stroke-width="0.8"/>
<line x1="292.8" y1="110.69" x2="296" y2="104.77" stroke="#000" stroke-width="0.8"/>
<line x1="297.8" y1="111.39" x2="300.97" y2="105.55" stroke="#000" stroke-width="0.8"/>
<line x1="302.8" y1="112.11" x2="305.93" y2="106.36" stroke="#000" stroke-width="0.8"/>
<line x1="307.8" y1="112.87" x2="310.9" y2="107.2" stroke="#000" stroke-width="0.8"/>
<line x1="312.8" y1="113.65" x2="315.86" y2="108.06" stroke="#000" stroke-width="0.8"/>
<line x1="317.8" y1="114.46" x2="320.83" y2="108.96" stroke="#000" stroke-width="0.8"/>
<line x1="322.8" y1="115.3" x2="325.79" y2="109.88" stroke="#000" stroke-width="0.8"/>
<line x1="327.8" y1="116.16" x2="330.75" y2="110.83" stroke="#000" stroke-width="0.8"/>
<line x1="332.8" y1="117.06" x2="335.71" y2="111.81" stroke="#000" stroke-width="0.8"/>
<line x1="337.8" y1="117.97" x2="340.67" y2="112.8" stroke="#000" stroke-width="0.8"/>
<line x1="342.8" y1="118.9" x2="345.63" y2="113.81" stroke="#000" stroke-width="0.8"/>
<line x1="347.8" y1="119.85" x2="350.59" y2="114.83" stroke="#000" stroke-width="0.8"/>
<line x1="352.8" y1="120.8" x2="355.56" y2="115.85" stroke="#000" stroke-width="0.8"/>
<line x1="357.8" y1="121.76" x2="360.52" y2="116.87" stroke="#000" stroke-width="0.8"/>
<line x1="362.8" y1="122.71" x2="365.49" y2="117.88" stroke="#000" stroke-width="0.8"/>
<line x1="367.8" y1="123.66" x2="370.45" y2="118.88" stroke="#000" stroke-width="0.8"/>
<line x1="372.8" y1="124.6" x2="375.43" y2="119.86" stroke="#000" stroke-width="0.8"/>
<line x1="377.8" y1="125.52" x2="380.4" y2="120.81" stroke="#000" stroke-width="0.8"/>
<line x1="382.8" y1="126.42" x2="385.38" y2="121.73" stroke="#000" stroke-width="0.8"/>
<line x1="387.8" y1="127.3" x2="390.37" y2="122.62" stroke="#000" stroke-width="0.8"/>
<line x1="392.8" y1="128.14" x2="395.35" y2="123.46" stroke="#000" stroke-width="0.8"/>
<line x1="397.8" y1="128.95" x2="400.35" y2="124.25" stroke="#000" stroke-width="0.8"/>
<line x1="402.8" y1="129.73" x2="405.35" y2="125" stroke="#000" stroke-width="0.8"/>
<line x1="407.8" y1="130.47" x2="410.36" y2="125.71" stroke="#000" stroke-width="0.8"/>
<line x1="412.8" y1="131.19" x2="415.37" y2="126.41" stroke="#000" stroke-width="0.8"/>
<line x1="417.8" y1="131.92" x2="420.39" y2="127.1" stroke="#000" stroke-width="0.8"/>
<line x1="422.8" y1="132.67" x2="425.41" y2="127.82" stroke="#000" stroke-width="0.8"/>
<line x1="427.8" y1="133.44" x2="430.44" y2="128.57" stroke="#000" stroke-width="0.8"/>
<line x1="432.8" y1="134.27" x2="435.47" y2="129.37" stroke="#000" stroke-width="0.8"/>
<line x1="437.8" y1="135.15" x2="440.5" y2="130.22" stroke="#000" stroke-width="0.8"/>
<line x1="442.8" y1="136.08" x2="445.53" y2="131.11" stroke="#000" stroke-width="0.8"/>
<line x1="447.8" y1="137.06" x2="450.57" y2="132.03" stroke="#000" stroke-width="0.8"/>
<line x1="452.8" y1="138.08" x2="455.61" y2="132.99" stroke="#000" stroke-width="0.8"/>
<line x1="457.8" y1="139.13" x2="460.66" y2="133.96" stroke="#000" stroke-width="0.8"/>
<line x1="462.8" y1="140.21" x2="465.71" y2="134.95" stroke="#000" stroke-width="0.8"/>
<line x1="467.8" y1="141.31" x2="470.77" y2="135.95" stroke="#000" stroke-width="0.8"/>
<line x1="472.8" y1="142.43" x2="475.84" y2="136.96" stroke="#000" stroke-width="0.8"/>
<line x1="477.8" y1="143.57" x2="480.91" y2="137.98" stroke="#000" stroke-width="0.8"/>
<line x1="482.8" y1="144.74" x2="485.99" y2="139.01" stroke="#000" stroke-width="0.8"/>
<line x1="487.8" y1="145.94" x2="491.08" y2="140.07" stroke="#000" stroke-width="0.8"/>
<line x1="492.8" y1="147.18" x2="496.17" y2="141.17" stroke="#000" stroke-width="0.8"/>
<line x1="497.8" y1="148.46" x2="501.27" y2="142.3" stroke="#000" stroke-width="0.8"/>
<line x1="502.8" y1="149.79" x2="506.37" y2="143.47" stroke="#000" stroke-width="0.8"/>
<line x1="507.8" y1="151.18" x2="511.49" y2="144.7" stroke="#000" stroke-width="0.8"/>
<line x1="512.8" y1="152.63" x2="516.6" y2="145.99" stroke="#000" stroke-width="0.8"/>
<line x1="517.8" y1="154.15" x2="521.73" y2="147.35" stroke="#000" stroke-width="0.8"/>
<line x1="522.8" y1="155.75" x2="526.85" y2="148.78" stroke="#000" stroke-width="0.8"/>
<line x1="527.8" y1="157.43" x2="531.99" y2="150.31" stroke="#000" stroke-width="0.8"/>
<line x1="532.8" y1="159.22" x2="537.13" y2="151.95" stroke="#000" stroke-width="0.8"/>
<line x1="537.8" y1="161.12" x2="542.28" y2="153.7" stroke="#000" stroke-width="0.8"/>
<line x1="542.8" y1="163.15" x2="547.43" y2="155.54" stroke="#000" stroke-width="0.8"/>
<line x1="547.8" y1="165.27" x2="552.6" y2="157.47" stroke="#000" stroke-width="0.8"/>
<line x1="552.8" y1="167.47" x2="557.76" y2="159.45" stroke="#000" stroke-width="0.8"/>
<polyline points="240.3,97.8 242.8,98.07 245.3,98.35 247.8,98.62 250.3,98.9 252.8,99.17 255.3,99.45 257.8,99.74 260.3,100.02 262.8,100.32 265.3,100.61 267.8,100.91 270.3,101.22 272.8,101.53 275.3,101.85 277.8,102.17 280.3,102.51 282.8,102.85 285.3,103.2 287.8,103.55 290.3,103.92 292.8,104.29 295.3,104.67 297.8,105.05 300.3,105.45 302.8,105.85 305.3,106.25 307.8,106.67 310.3,107.09 312.8,107.52 315.3,107.96 317.8,108.41 320.3,108.86 322.8,109.32 325.3,109.79 327.8,110.26 330.3,110.74 332.8,111.23 335.3,111.73 337.8,112.22 340.3,112.73 342.8,113.24 345.3,113.75 347.8,114.26 350.3,114.77 352.8,115.29 355.3,115.8 357.8,116.31 360.3,116.83 362.8,117.34 365.3,117.85 367.8,118.35 370.3,118.85 372.8,119.34 375.3,119.83 377.8,120.32 380.3,120.79 382.8,121.26 385.3,121.72 387.8,122.17 390.3,122.61 392.8,123.03 395.3,123.45 397.8,123.85 400.3,124.25 402.8,124.62 405.3,124.99 407.8,125.35 410.3,125.7 412.8,126.05 415.3,126.4 417.8,126.74 420.3,127.09 422.8,127.44 425.3,127.8 427.8,128.17 430.3,128.55 432.8,128.94 435.3,129.34 437.8,129.76 440.3,130.19 442.8,130.62 445.3,131.07 447.8,131.52 450.3,131.98 452.8,132.45 455.3,132.93 457.8,133.41 460.3,133.89 462.8,134.38 465.3,134.87 467.8,135.36 470.3,135.86 472.8,136.35 475.3,136.85 477.8,137.35 480.3,137.85 482.8,138.36 485.3,138.87 487.8,139.39 490.3,139.91 492.8,140.44 495.3,140.98 497.8,141.52 500.3,142.08 502.8,142.64 505.3,143.22 507.8,143.81 510.3,144.41 512.8,145.02 515.3,145.65 517.8,146.3 520.3,146.96 522.8,147.64 525.3,148.34 527.8,149.06 530.3,149.8 532.8,150.56 535.3,151.35 537.8,152.17 540.3,153.01 542.8,153.88 545.3,154.77 547.8,155.68 550.3,156.61 552.8,157.55 555.3,158.5 557.8,159.46 560.3,160.43 562.8,161.4" fill="none" stroke="#000" stroke-width="1.2" stroke-linejoin="round"/>
<polyline points="240.3,104.9 242.8,105.14 245.3,105.38 247.8,105.62 250.3,105.86 252.8,106.11 255.3,106.36 257.8,106.61 260.3,106.86 262.8,107.12 265.3,107.38 267.8,107.65 270.3,107.92 272.8,108.2 275.3,108.48 277.8,108.78 280.3,109.08 282.8,109.38 285.3,109.7 287.8,110.02 290.3,110.35 292.8,110.69 295.3,111.03 297.8,111.39 300.3,111.75 302.8,112.11 305.3,112.49 307.8,112.87 310.3,113.25 312.8,113.65 315.3,114.05 317.8,114.46 320.3,114.88 322.8,115.3 325.3,115.73 327.8,116.16 330.3,116.61 332.8,117.06 335.3,117.51 337.8,117.97 340.3,118.44 342.8,118.9 345.3,119.37 347.8,119.85 350.3,120.32 352.8,120.8 355.3,121.28 357.8,121.76 360.3,122.23 362.8,122.71 365.3,123.19 367.8,123.66 370.3,124.13 372.8,124.6 375.3,125.06 377.8,125.52 380.3,125.97 382.8,126.42 385.3,126.86 387.8,127.3 390.3,127.72 392.8,128.14 395.3,128.55 397.8,128.95 400.3,129.35 402.8,129.73 405.3,130.1 407.8,130.47 410.3,130.83 412.8,131.19 415.3,131.56 417.8,131.92 420.3,132.29 422.8,132.67 425.3,133.05 427.8,133.44 430.3,133.85 432.8,134.27 435.3,134.7 437.8,135.15 440.3,135.61 442.8,136.08 445.3,136.57 447.8,137.06 450.3,137.56 452.8,138.08 455.3,138.6 457.8,139.13 460.3,139.66 462.8,140.21 465.3,140.75 467.8,141.31 470.3,141.87 472.8,142.43 475.3,143 477.8,143.57 480.3,144.15 482.8,144.74 485.3,145.34 487.8,145.94 490.3,146.55 492.8,147.18 495.3,147.81 497.8,148.46 500.3,149.12 502.8,149.79 505.3,150.48 507.8,151.18 510.3,151.9 512.8,152.63 515.3,153.38 517.8,154.15 520.3,154.94 522.8,155.75 525.3,156.58 527.8,157.43 530.3,158.31 532.8,159.22 535.3,160.16 537.8,161.12 540.3,162.12 542.8,163.15 545.3,164.2 547.8,165.27 550.3,166.36 552.8,167.47 555.3,168.59 557.8,169.72 560.3,170.86 562.8,172" fill="none" stroke="#000" stroke-width="1.2" stroke-linejoin="round"/>
<polyline points="240.3,101.5 242.8,101.75 245.3,102.01 247.8,102.26 250.3,102.52 252.8,102.77 255.3,103.03 257.8,103.3 260.3,103.56 262.8,103.84 265.3,104.11 267.8,104.39 270.3,104.68 272.8,104.97 275.3,105.27 277.8,105.58 280.3,105.89 282.8,106.21 285.3,106.54 287.8,106.88 290.3,107.22 292.8,107.57 295.3,107.93 297.8,108.3 300.3,108.67 302.8,109.05 305.3,109.44 307.8,109.84 310.3,110.24 312.8,110.65 315.3,111.07 317.8,111.49 320.3,111.92 322.8,112.36 325.3,112.81 327.8,113.26 330.3,113.72 332.8,114.19 335.3,114.66 337.8,115.14 340.3,115.62 342.8,116.11 345.3,116.6 347.8,117.09 350.3,117.59 352.8,118.08 355.3,118.58 357.8,119.07 360.3,119.57 362.8,120.06 365.3,120.55 367.8,121.04 370.3,121.52 372.8,122.01 375.3,122.48 377.8,122.95 380.3,123.42 382.8,123.88 385.3,124.33 387.8,124.77 390.3,125.21 392.8,125.63 395.3,126.05 397.8,126.45 400.3,126.85 402.8,127.23 405.3,127.6 407.8,127.97 410.3,128.33 412.8,128.68 415.3,129.04 417.8,129.39 420.3,129.75 422.8,130.11 425.3,130.48 427.8,130.86 430.3,131.25 432.8,131.65 435.3,132.06 437.8,132.48 440.3,132.91 442.8,133.36 445.3,133.81 447.8,134.28 450.3,134.75 452.8,135.24 455.3,135.73 457.8,136.23 460.3,136.74 462.8,137.26 465.3,137.79 467.8,138.32 470.3,138.87 472.8,139.41 475.3,139.97 477.8,140.53 480.3,141.1 482.8,141.68 485.3,142.27 487.8,142.87 490.3,143.47 492.8,144.09 495.3,144.72 497.8,145.36 500.3,146.01 502.8,146.67 505.3,147.34 507.8,148.02 510.3,148.72 512.8,149.43 515.3,150.15 517.8,150.89 520.3,151.65 522.8,152.42 525.3,153.21 527.8,154.03 530.3,154.87 532.8,155.73 535.3,156.62 537.8,157.54 540.3,158.49 542.8,159.46 545.3,160.46 547.8,161.48 550.3,162.52 552.8,163.58 555.3,164.65 557.8,165.73 560.3,166.81 562.8,167.9" fill="none" stroke="#000" stroke-width="1.7" stroke-linejoin="round"/>
<line x1="278.2" y1="94.8" x2="278.2" y2="109.8" stroke="#000" stroke-width="1.2"/>
<polygon points="275.1,105.1 281.3,105.1 278.2,99.5" fill="#000" stroke="none" stroke-width="0"/>
<line x1="293.3" y1="108.1" x2="293.3" y2="127.9" stroke="#000" stroke-width="1.2"/>
<polygon points="290.2,120.8 296.4,120.8 293.3,115.2" fill="#000" stroke="none" stroke-width="0"/>
<line x1="305" y1="95.2" x2="305" y2="111.6" stroke="#000" stroke-width="1.2"/>
<polygon points="301.9,106.2 308.1,106.2 305,100.6" fill="#000" stroke="none" stroke-width="0"/>
<line x1="318" y1="113.2" x2="318" y2="131.4" stroke="#000" stroke-width="1.2"/>
<polygon points="314.9,125.1 321.1,125.1 318,119.5" fill="#000" stroke="none" stroke-width="0"/>
<line x1="327.9" y1="103.4" x2="327.9" y2="122.2" stroke="#000" stroke-width="1.2"/>
<polygon points="324.8,115.6 331,115.6 327.9,110" fill="#000" stroke="none" stroke-width="0"/>
<line x1="347.3" y1="113.6" x2="347.3" y2="128.4" stroke="#000" stroke-width="1.2"/>
<polygon points="344.2,123.8 350.4,123.8 347.3,118.2" fill="#000" stroke="none" stroke-width="0"/>
<line x1="355.7" y1="106.9" x2="355.7" y2="122.1" stroke="#000" stroke-width="1.2"/>
<polygon points="352.6,117.3 358.8,117.3 355.7,111.7" fill="#000" stroke="none" stroke-width="0"/>
<line x1="386.9" y1="112.5" x2="386.9" y2="128.1" stroke="#000" stroke-width="1.2"/>
<polygon points="383.8,123.1 390,123.1 386.9,117.5" fill="#000" stroke="none" stroke-width="0"/>
<line x1="386.9" y1="128.9" x2="386.9" y2="144.1" stroke="#000" stroke-width="1.2"/>
<polygon points="383.8,139.3 390,139.3 386.9,133.7" fill="#000" stroke="none" stroke-width="0"/>
<line x1="417.4" y1="116.7" x2="417.4" y2="135.3" stroke="#000" stroke-width="1.2"/>
<polygon points="414.3,128.8 420.5,128.8 417.4,123.2" fill="#000" stroke="none" stroke-width="0"/>
<line x1="428.4" y1="120.7" x2="428.4" y2="138.7" stroke="#000" stroke-width="1.2"/>
<polygon points="425.3,132.5 431.5,132.5 428.4,126.9" fill="#000" stroke="none" stroke-width="0"/>
<line x1="456.1" y1="110" x2="456.1" y2="130.4" stroke="#000" stroke-width="1.2"/>
<polygon points="453,123 459.2,123 456.1,117.4" fill="#000" stroke="none" stroke-width="0"/>
<line x1="477.9" y1="140.4" x2="477.9" y2="155.6" stroke="#000" stroke-width="1.2"/>
<polygon points="474.8,150.8 481,150.8 477.9,145.2" fill="#000" stroke="none" stroke-width="0"/>
<line x1="512.6" y1="132.9" x2="512.6" y2="154.7" stroke="#000" stroke-width="1.2"/>
<polygon points="509.5,146.6 515.7,146.6 512.6,141" fill="#000" stroke="none" stroke-width="0"/>
<line x1="538.5" y1="155.5" x2="538.5" y2="181.7" stroke="#000" stroke-width="1.2"/>
<polygon points="535.4,171.4 541.6,171.4 538.5,165.8" fill="#000" stroke="none" stroke-width="0"/>
<line x1="243.05" y1="304.13" x2="245.81" y2="299.3" stroke="#0000ff" stroke-width="0.6"/>
<line x1="248.55" y1="303.19" x2="251.28" y2="298.41" stroke="#0000ff" stroke-width="0.6"/>
<line x1="254.05" y1="302.27" x2="256.76" y2="297.55" stroke="#0000ff" stroke-width="0.6"/>
<line x1="259.55" y1="301.37" x2="262.23" y2="296.71" stroke="#0000ff" stroke-width="0.6"/>
<line x1="265.05" y1="300.5" x2="267.7" y2="295.91" stroke="#0000ff" stroke-width="0.6"/>
<line x1="270.55" y1="299.68" x2="273.17" y2="295.17" stroke="#0000ff" stroke-width="0.6"/>
<line x1="276.05" y1="298.91" x2="278.64" y2="294.48" stroke="#0000ff" stroke-width="0.6"/>
<line x1="281.55" y1="298.19" x2="284.1" y2="293.86" stroke="#0000ff" stroke-width="0.6"/>
<line x1="287.05" y1="297.52" x2="289.56" y2="293.28" stroke="#0000ff" stroke-width="0.6"/>
<line x1="292.55" y1="296.89" x2="295.01" y2="292.73" stroke="#0000ff" stroke-width="0.6"/>
<line x1="298.05" y1="296.26" x2="300.46" y2="292.2" stroke="#0000ff" stroke-width="0.6"/>
<line x1="303.55" y1="295.63" x2="305.91" y2="291.65" stroke="#0000ff" stroke-width="0.6"/>
<line x1="309.05" y1="294.97" x2="311.35" y2="291.08" stroke="#0000ff" stroke-width="0.6"/>
<line x1="314.55" y1="294.29" x2="316.78" y2="290.5" stroke="#0000ff" stroke-width="0.6"/>
<line x1="320.05" y1="293.6" x2="322.22" y2="289.94" stroke="#0000ff" stroke-width="0.6"/>
<line x1="325.55" y1="292.93" x2="327.65" y2="289.39" stroke="#0000ff" stroke-width="0.6"/>
<line x1="331.05" y1="292.3" x2="333.09" y2="288.88" stroke="#0000ff" stroke-width="0.6"/>
<line x1="336.55" y1="291.72" x2="338.52" y2="288.44" stroke="#0000ff" stroke-width="0.6"/>
<line x1="342.05" y1="291.23" x2="343.97" y2="288.08" stroke="#0000ff" stroke-width="0.6"/>
<line x1="347.55" y1="290.85" x2="349.41" y2="287.82" stroke="#0000ff" stroke-width="0.6"/>
<line x1="353.05" y1="290.6" x2="354.86" y2="287.68" stroke="#0000ff" stroke-width="0.6"/>
<line x1="358.55" y1="290.45" x2="360.32" y2="287.62" stroke="#0000ff" stroke-width="0.6"/>
<line x1="364.05" y1="290.38" x2="365.79" y2="287.62" stroke="#0000ff" stroke-width="0.6"/>
<line x1="369.55" y1="290.36" x2="371.27" y2="287.64" stroke="#0000ff" stroke-width="0.6"/>
<line x1="375.05" y1="290.38" x2="376.76" y2="287.68" stroke="#0000ff" stroke-width="0.6"/>
<line x1="380.55" y1="290.41" x2="382.25" y2="287.73" stroke="#0000ff" stroke-width="0.6"/>
<line x1="386.05" y1="290.48" x2="387.76" y2="287.79" stroke="#0000ff" stroke-width="0.6"/>
<line x1="391.55" y1="290.58" x2="393.27" y2="287.87" stroke="#0000ff" stroke-width="0.6"/>
<line x1="397.05" y1="290.71" x2="398.79" y2="287.98" stroke="#0000ff" stroke-width="0.6"/>
<line x1="402.55" y1="290.88" x2="404.32" y2="288.11" stroke="#0000ff" stroke-width="0.6"/>
<line x1="408.05" y1="291.08" x2="409.86" y2="288.26" stroke="#0000ff" stroke-width="0.6"/>
<line x1="413.55" y1="291.29" x2="415.4" y2="288.4" stroke="#0000ff" stroke-width="0.6"/>
<line x1="419.05" y1="291.49" x2="420.95" y2="288.52" stroke="#0000ff" stroke-width="0.6"/>
<line x1="424.55" y1="291.67" x2="426.5" y2="288.59" stroke="#0000ff" stroke-width="0.6"/>
<line x1="430.05" y1="291.8" x2="432.07" y2="288.59" stroke="#0000ff" stroke-width="0.6"/>
<line x1="435.55" y1="291.87" x2="437.64" y2="288.52" stroke="#0000ff" stroke-width="0.6"/>
<line x1="441.05" y1="291.85" x2="443.21" y2="288.34" stroke="#0000ff" stroke-width="0.6"/>
<line x1="446.55" y1="291.74" x2="448.79" y2="288.05" stroke="#0000ff" stroke-width="0.6"/>
<line x1="452.05" y1="291.53" x2="454.38" y2="287.64" stroke="#0000ff" stroke-width="0.6"/>
<line x1="457.55" y1="291.2" x2="459.98" y2="287.08" stroke="#0000ff" stroke-width="0.6"/>
<line x1="463.05" y1="290.74" x2="465.58" y2="286.39" stroke="#0000ff" stroke-width="0.6"/>
<line x1="468.55" y1="290.17" x2="471.19" y2="285.58" stroke="#0000ff" stroke-width="0.6"/>
<line x1="474.05" y1="289.5" x2="476.81" y2="284.66" stroke="#0000ff" stroke-width="0.6"/>
<line x1="479.55" y1="288.76" x2="482.44" y2="283.65" stroke="#0000ff" stroke-width="0.6"/>
<line x1="485.05" y1="287.96" x2="488.07" y2="282.58" stroke="#0000ff" stroke-width="0.6"/>
<line x1="490.55" y1="287.12" x2="493.72" y2="281.45" stroke="#0000ff" stroke-width="0.6"/>
<line x1="496.05" y1="286.25" x2="499.37" y2="280.31" stroke="#0000ff" stroke-width="0.6"/>
<line x1="501.55" y1="285.38" x2="505.02" y2="279.16" stroke="#0000ff" stroke-width="0.6"/>
<line x1="507.05" y1="284.52" x2="510.69" y2="278.04" stroke="#0000ff" stroke-width="0.6"/>
<line x1="512.55" y1="283.71" x2="516.35" y2="276.96" stroke="#0000ff" stroke-width="0.6"/>
<line x1="518.05" y1="282.95" x2="522.02" y2="275.94" stroke="#0000ff" stroke-width="0.6"/>
<line x1="523.55" y1="282.25" x2="527.69" y2="274.96" stroke="#0000ff" stroke-width="0.6"/>
<line x1="529.05" y1="281.59" x2="533.37" y2="274.03" stroke="#0000ff" stroke-width="0.6"/>
<line x1="534.55" y1="280.97" x2="539.04" y2="273.12" stroke="#0000ff" stroke-width="0.6"/>
<line x1="540.05" y1="280.38" x2="544.72" y2="272.23" stroke="#0000ff" stroke-width="0.6"/>
<line x1="545.55" y1="279.81" x2="550.4" y2="271.36" stroke="#0000ff" stroke-width="0.6"/>
<line x1="551.05" y1="279.25" x2="556.08" y2="270.51" stroke="#0000ff" stroke-width="0.6"/>
<line x1="556.55" y1="278.71" x2="561.76" y2="269.66" stroke="#0000ff" stroke-width="0.6"/>
<polyline points="240.3,300.2 242.8,299.79 245.3,299.38 247.8,298.97 250.3,298.57 252.8,298.17 255.3,297.77 257.8,297.38 260.3,297 262.8,296.62 265.3,296.26 267.8,295.9 270.3,295.55 272.8,295.22 275.3,294.89 277.8,294.58 280.3,294.28 282.8,294 285.3,293.73 287.8,293.46 290.3,293.21 292.8,292.95 295.3,292.71 297.8,292.46 300.3,292.21 302.8,291.96 305.3,291.71 307.8,291.45 310.3,291.19 312.8,290.93 315.3,290.66 317.8,290.4 320.3,290.13 322.8,289.88 325.3,289.62 327.8,289.37 330.3,289.13 332.8,288.91 335.3,288.69 337.8,288.49 340.3,288.31 342.8,288.14 345.3,288 347.8,287.88 350.3,287.79 352.8,287.72 355.3,287.67 357.8,287.64 360.3,287.62 362.8,287.61 365.3,287.62 367.8,287.63 370.3,287.64 372.8,287.65 375.3,287.67 377.8,287.69 380.3,287.71 382.8,287.73 385.3,287.76 387.8,287.79 390.3,287.83 392.8,287.86 395.3,287.91 397.8,287.96 400.3,288.01 402.8,288.07 405.3,288.14 407.8,288.2 410.3,288.27 412.8,288.34 415.3,288.4 417.8,288.45 420.3,288.5 422.8,288.55 425.3,288.58 427.8,288.6 430.3,288.6 432.8,288.59 435.3,288.56 437.8,288.51 440.3,288.45 442.8,288.36 445.3,288.25 447.8,288.12 450.3,287.96 452.8,287.77 455.3,287.56 457.8,287.32 460.3,287.05 462.8,286.75 465.3,286.43 467.8,286.08 470.3,285.72 472.8,285.33 475.3,284.92 477.8,284.49 480.3,284.05 482.8,283.59 485.3,283.11 487.8,282.63 490.3,282.14 492.8,281.64 495.3,281.14 497.8,280.63 500.3,280.12 502.8,279.61 505.3,279.1 507.8,278.6 510.3,278.11 512.8,277.63 515.3,277.15 517.8,276.69 520.3,276.24 522.8,275.8 525.3,275.37 527.8,274.95 530.3,274.53 532.8,274.12 535.3,273.71 537.8,273.32 540.3,272.92 542.8,272.53 545.3,272.14 547.8,271.76 550.3,271.38 552.8,271 555.3,270.62 557.8,270.25 560.3,269.87 562.8,269.5" fill="none" stroke="#0000ff" stroke-width="0.8" stroke-linejoin="round"/>
<polyline points="240.3,304.6 242.8,304.17 245.3,303.75 247.8,303.32 250.3,302.9 252.8,302.48 255.3,302.06 257.8,301.65 260.3,301.25 262.8,300.85 265.3,300.46 267.8,300.08 270.3,299.71 272.8,299.35 275.3,299.01 277.8,298.67 280.3,298.35 282.8,298.03 285.3,297.73 287.8,297.44 290.3,297.15 292.8,296.86 295.3,296.58 297.8,296.29 300.3,296.01 302.8,295.72 305.3,295.42 307.8,295.12 310.3,294.81 312.8,294.5 315.3,294.19 317.8,293.88 320.3,293.57 322.8,293.26 325.3,292.96 327.8,292.67 330.3,292.38 332.8,292.11 335.3,291.85 337.8,291.6 340.3,291.38 342.8,291.17 345.3,290.99 347.8,290.83 350.3,290.71 352.8,290.6 355.3,290.52 357.8,290.46 360.3,290.42 362.8,290.39 365.3,290.37 367.8,290.37 370.3,290.36 372.8,290.37 375.3,290.38 377.8,290.39 380.3,290.41 382.8,290.44 385.3,290.47 387.8,290.51 390.3,290.55 392.8,290.6 395.3,290.66 397.8,290.73 400.3,290.8 402.8,290.89 405.3,290.97 407.8,291.07 410.3,291.16 412.8,291.26 415.3,291.36 417.8,291.45 420.3,291.54 422.8,291.62 425.3,291.69 427.8,291.75 430.3,291.81 432.8,291.84 435.3,291.87 437.8,291.87 440.3,291.86 442.8,291.83 445.3,291.78 447.8,291.71 450.3,291.61 452.8,291.49 455.3,291.35 457.8,291.18 460.3,290.98 462.8,290.76 465.3,290.52 467.8,290.25 470.3,289.97 472.8,289.66 475.3,289.34 477.8,289.01 480.3,288.66 482.8,288.3 485.3,287.92 487.8,287.54 490.3,287.15 492.8,286.76 495.3,286.37 497.8,285.97 500.3,285.57 502.8,285.18 505.3,284.79 507.8,284.41 510.3,284.04 512.8,283.67 515.3,283.32 517.8,282.98 520.3,282.66 522.8,282.34 525.3,282.03 527.8,281.74 530.3,281.45 532.8,281.16 535.3,280.89 537.8,280.62 540.3,280.35 542.8,280.09 545.3,279.83 547.8,279.58 550.3,279.33 552.8,279.08 555.3,278.83 557.8,278.59 560.3,278.34 562.8,278.1" fill="none" stroke="#0000ff" stroke-width="0.8" stroke-linejoin="round"/>
<polyline points="240.3,302.4 242.8,301.98 245.3,301.56 247.8,301.15 250.3,300.73 252.8,300.32 255.3,299.92 257.8,299.52 260.3,299.12 262.8,298.74 265.3,298.36 267.8,297.99 270.3,297.63 272.8,297.28 275.3,296.95 277.8,296.63 280.3,296.32 282.8,296.02 285.3,295.73 287.8,295.45 290.3,295.18 292.8,294.91 295.3,294.64 297.8,294.38 300.3,294.11 302.8,293.84 305.3,293.57 307.8,293.29 310.3,293 312.8,292.72 315.3,292.43 317.8,292.14 320.3,291.85 322.8,291.57 325.3,291.29 327.8,291.02 330.3,290.76 332.8,290.51 335.3,290.27 337.8,290.05 340.3,289.84 342.8,289.66 345.3,289.5 347.8,289.36 350.3,289.25 352.8,289.16 355.3,289.1 357.8,289.05 360.3,289.02 362.8,289 365.3,288.99 367.8,289 370.3,289 372.8,289.01 375.3,289.02 377.8,289.04 380.3,289.06 382.8,289.08 385.3,289.11 387.8,289.15 390.3,289.19 392.8,289.23 395.3,289.29 397.8,289.34 400.3,289.41 402.8,289.48 405.3,289.56 407.8,289.64 410.3,289.72 412.8,289.8 415.3,289.88 417.8,289.95 420.3,290.02 422.8,290.08 425.3,290.13 427.8,290.17 430.3,290.2 432.8,290.22 435.3,290.21 437.8,290.19 440.3,290.15 442.8,290.09 445.3,290.01 447.8,289.91 450.3,289.79 452.8,289.63 455.3,289.45 457.8,289.25 460.3,289.02 462.8,288.76 465.3,288.47 467.8,288.17 470.3,287.84 472.8,287.49 475.3,287.13 477.8,286.75 480.3,286.35 482.8,285.94 485.3,285.52 487.8,285.09 490.3,284.65 492.8,284.2 495.3,283.75 497.8,283.3 500.3,282.85 502.8,282.39 505.3,281.95 507.8,281.51 510.3,281.07 512.8,280.65 515.3,280.24 517.8,279.84 520.3,279.45 522.8,279.07 525.3,278.7 527.8,278.34 530.3,277.99 532.8,277.64 535.3,277.3 537.8,276.97 540.3,276.64 542.8,276.31 545.3,275.99 547.8,275.67 550.3,275.35 552.8,275.04 555.3,274.73 557.8,274.42 560.3,274.11 562.8,273.8" fill="none" stroke="#0000ff" stroke-width="1.2" stroke-linejoin="round"/>
<line x1="278.2" y1="288.9" x2="278.2" y2="300.7" stroke="#0000ff" stroke-width="1.2"/>
<polygon points="275.1,297.6 281.3,297.6 278.2,292" fill="#0000ff" stroke="none" stroke-width="0"/>
<line x1="293.3" y1="295.4" x2="293.3" y2="306.2" stroke="#0000ff" stroke-width="1.2"/>
<polygon points="290.2,303.6 296.4,303.6 293.3,298" fill="#0000ff" stroke="none" stroke-width="0"/>
<line x1="305" y1="288.5" x2="305" y2="300.7" stroke="#0000ff" stroke-width="1.2"/>
<polygon points="301.9,297.4 308.1,297.4 305,291.8" fill="#0000ff" stroke="none" stroke-width="0"/>
<line x1="318" y1="287.5" x2="318" y2="299.3" stroke="#0000ff" stroke-width="1.2"/>
<polygon points="314.9,296.2 321.1,296.2 318,290.6" fill="#0000ff" stroke="none" stroke-width="0"/>
<line x1="327.9" y1="281.9" x2="327.9" y2="294.7" stroke="#0000ff" stroke-width="1.2"/>
<polygon points="324.8,291.1 331,291.1 327.9,285.5" fill="#0000ff" stroke="none" stroke-width="0"/>
<line x1="347.3" y1="287.8" x2="347.3" y2="298.6" stroke="#0000ff" stroke-width="1.2"/>
<polygon points="344.2,296 350.4,296 347.3,290.4" fill="#0000ff" stroke="none" stroke-width="0"/>
<line x1="355.7" y1="273.7" x2="355.7" y2="284.9" stroke="#0000ff" stroke-width="1.2"/>
<polygon points="352.6,282.1 358.8,282.1 355.7,276.5" fill="#0000ff" stroke="none" stroke-width="0"/>
<line x1="386.9" y1="283.7" x2="386.9" y2="295.5" stroke="#0000ff" stroke-width="1.2"/>
<polygon points="383.8,292.4 390,292.4 386.9,286.8" fill="#0000ff" stroke="none" stroke-width="0"/>
<line x1="386.9" y1="271.6" x2="386.9" y2="282" stroke="#0000ff" stroke-width="1.2"/>
<polygon points="383.8,279.6 390,279.6 386.9,274" fill="#0000ff" stroke="none" stroke-width="0"/>
<line x1="417.4" y1="295.5" x2="417.4" y2="309.3" stroke="#0000ff" stroke-width="1.2"/>
<polygon points="414.3,305.2 420.5,305.2 417.4,299.6" fill="#0000ff" stroke="none" stroke-width="0"/>
<line x1="428.4" y1="278.1" x2="428.4" y2="290.3" stroke="#0000ff" stroke-width="1.2"/>
<polygon points="425.3,287 431.5,287 428.4,281.4" fill="#0000ff" stroke="none" stroke-width="0"/>
<line x1="456.1" y1="297.2" x2="456.1" y2="312.6" stroke="#0000ff" stroke-width="1.2"/>
<polygon points="453,307.7 459.2,307.7 456.1,302.1" fill="#0000ff" stroke="none" stroke-width="0"/>
<line x1="477.9" y1="281.4" x2="477.9" y2="294.6" stroke="#0000ff" stroke-width="1.2"/>
<polygon points="474.8,290.8 481,290.8 477.9,285.2" fill="#0000ff" stroke="none" stroke-width="0"/>
<line x1="512.6" y1="266" x2="512.6" y2="282" stroke="#0000ff" stroke-width="1.2"/>
<polygon points="509.5,276.8 515.7,276.8 512.6,271.2" fill="#0000ff" stroke="none" stroke-width="0"/>
<line x1="538.5" y1="270.9" x2="538.5" y2="291.5" stroke="#0000ff" stroke-width="1.2"/>
<polygon points="535.4,284 541.6,284 538.5,278.4" fill="#0000ff" stroke="none" stroke-width="0"/>
<line x1="487" y1="281.1" x2="487" y2="314.6" stroke="#000" stroke-width="1.3"/>
<polyline points="480.5,298.1 487,314.6 493.5,298.1" fill="none" stroke="#000" stroke-width="1.3" stroke-linejoin="round"/>
<line x1="487" y1="559.5" x2="487" y2="593" stroke="#000" stroke-width="1.3"/>
<polyline points="480.5,576.5 487,593 493.5,576.5" fill="none" stroke="#000" stroke-width="1.3" stroke-linejoin="round"/>
<g stroke="#000" stroke-width="1.4" fill="none">
<rect x="72.2" y="36.2" width="557.1" height="556.8"/>
<line x1="72.2" y1="314.6" x2="629.3" y2="314.6"/>
</g>
<g stroke="#000" stroke-width="1.3">
<line x1="170.91" y1="36.2" x2="170.91" y2="41.8"/>
<line x1="170.91" y1="314.6" x2="170.91" y2="308.4"/>
<line x1="170.91" y1="314.6" x2="170.91" y2="321.4"/>
<line x1="170.91" y1="593" x2="170.91" y2="586.2"/>
<line x1="228.65" y1="36.2" x2="228.65" y2="41.8"/>
<line x1="228.65" y1="314.6" x2="228.65" y2="308.4"/>
<line x1="228.65" y1="314.6" x2="228.65" y2="321.4"/>
<line x1="228.65" y1="593" x2="228.65" y2="586.2"/>
<line x1="269.62" y1="36.2" x2="269.62" y2="41.8"/>
<line x1="269.62" y1="314.6" x2="269.62" y2="308.4"/>
<line x1="269.62" y1="314.6" x2="269.62" y2="321.4"/>
<line x1="269.62" y1="593" x2="269.62" y2="586.2"/>
<line x1="301.4" y1="36.2" x2="301.4" y2="41.8"/>
<line x1="301.4" y1="314.6" x2="301.4" y2="308.4"/>
<line x1="301.4" y1="314.6" x2="301.4" y2="321.4"/>
<line x1="301.4" y1="593" x2="301.4" y2="586.2"/>
<line x1="327.36" y1="36.2" x2="327.36" y2="41.8"/>
<line x1="327.36" y1="314.6" x2="327.36" y2="308.4"/>
<line x1="327.36" y1="314.6" x2="327.36" y2="321.4"/>
<line x1="327.36" y1="593" x2="327.36" y2="586.2"/>
<line x1="349.31" y1="36.2" x2="349.31" y2="41.8"/>
<line x1="349.31" y1="314.6" x2="349.31" y2="308.4"/>
<line x1="349.31" y1="314.6" x2="349.31" y2="321.4"/>
<line x1="349.31" y1="593" x2="349.31" y2="586.2"/>
<line x1="368.33" y1="36.2" x2="368.33" y2="41.8"/>
<line x1="368.33" y1="314.6" x2="368.33" y2="308.4"/>
<line x1="368.33" y1="314.6" x2="368.33" y2="321.4"/>
<line x1="368.33" y1="593" x2="368.33" y2="586.2"/>
<line x1="385.1" y1="36.2" x2="385.1" y2="41.8"/>
<line x1="385.1" y1="314.6" x2="385.1" y2="308.4"/>
<line x1="385.1" y1="314.6" x2="385.1" y2="321.4"/>
<line x1="385.1" y1="593" x2="385.1" y2="586.2"/>
<line x1="400.1" y1="36.2" x2="400.1" y2="48.2"/>
<line x1="400.1" y1="314.6" x2="400.1" y2="302"/>
<line x1="400.1" y1="314.6" x2="400.1" y2="328.6"/>
<line x1="400.1" y1="593" x2="400.1" y2="579"/>
<line x1="498.81" y1="36.2" x2="498.81" y2="41.8"/>
<line x1="498.81" y1="314.6" x2="498.81" y2="308.4"/>
<line x1="498.81" y1="314.6" x2="498.81" y2="321.4"/>
<line x1="498.81" y1="593" x2="498.81" y2="586.2"/>
<line x1="556.55" y1="36.2" x2="556.55" y2="41.8"/>
<line x1="556.55" y1="314.6" x2="556.55" y2="308.4"/>
<line x1="556.55" y1="314.6" x2="556.55" y2="321.4"/>
<line x1="556.55" y1="593" x2="556.55" y2="586.2"/>
<line x1="597.52" y1="36.2" x2="597.52" y2="41.8"/>
<line x1="597.52" y1="314.6" x2="597.52" y2="308.4"/>
<line x1="597.52" y1="314.6" x2="597.52" y2="321.4"/>
<line x1="597.52" y1="593" x2="597.52" y2="586.2"/>
<line x1="72.2" y1="296.04" x2="79.2" y2="296.04"/>
<line x1="629.3" y1="296.04" x2="622.3" y2="296.04"/>
<line x1="72.2" y1="277.48" x2="79.2" y2="277.48"/>
<line x1="629.3" y1="277.48" x2="622.3" y2="277.48"/>
<line x1="72.2" y1="258.92" x2="79.2" y2="258.92"/>
<line x1="629.3" y1="258.92" x2="622.3" y2="258.92"/>
<line x1="72.2" y1="240.36" x2="79.2" y2="240.36"/>
<line x1="629.3" y1="240.36" x2="622.3" y2="240.36"/>
<line x1="72.2" y1="221.8" x2="86.2" y2="221.8"/>
<line x1="629.3" y1="221.8" x2="615.3" y2="221.8"/>
<line x1="72.2" y1="203.24" x2="79.2" y2="203.24"/>
<line x1="629.3" y1="203.24" x2="622.3" y2="203.24"/>
<line x1="72.2" y1="184.68" x2="79.2" y2="184.68"/>
<line x1="629.3" y1="184.68" x2="622.3" y2="184.68"/>
<line x1="72.2" y1="166.12" x2="79.2" y2="166.12"/>
<line x1="629.3" y1="166.12" x2="622.3" y2="166.12"/>
<line x1="72.2" y1="147.56" x2="79.2" y2="147.56"/>
<line x1="629.3" y1="147.56" x2="622.3" y2="147.56"/>
<line x1="72.2" y1="129" x2="86.2" y2="129"/>
<line x1="629.3" y1="129" x2="615.3" y2="129"/>
<line x1="72.2" y1="110.44" x2="79.2" y2="110.44"/>
<line x1="629.3" y1="110.44" x2="622.3" y2="110.44"/>
<line x1="72.2" y1="91.88" x2="79.2" y2="91.88"/>
<line x1="629.3" y1="91.88" x2="622.3" y2="91.88"/>
<line x1="72.2" y1="73.32" x2="79.2" y2="73.32"/>
<line x1="629.3" y1="73.32" x2="622.3" y2="73.32"/>
<line x1="72.2" y1="54.76" x2="79.2" y2="54.76"/>
<line x1="629.3" y1="54.76" x2="622.3" y2="54.76"/>
<line x1="72.2" y1="581.86" x2="79.4" y2="581.86"/>
<line x1="629.3" y1="581.86" x2="622.1" y2="581.86"/>
<line x1="72.2" y1="570.73" x2="79.4" y2="570.73"/>
<line x1="629.3" y1="570.73" x2="622.1" y2="570.73"/>
<line x1="72.2" y1="559.59" x2="79.4" y2="559.59"/>
<line x1="629.3" y1="559.59" x2="622.1" y2="559.59"/>
<line x1="72.2" y1="548.46" x2="79.4" y2="548.46"/>
<line x1="629.3" y1="548.46" x2="622.1" y2="548.46"/>
<line x1="72.2" y1="537.32" x2="86.4" y2="537.32"/>
<line x1="629.3" y1="537.32" x2="615.1" y2="537.32"/>
<line x1="72.2" y1="526.18" x2="79.4" y2="526.18"/>
<line x1="629.3" y1="526.18" x2="622.1" y2="526.18"/>
<line x1="72.2" y1="515.05" x2="79.4" y2="515.05"/>
<line x1="629.3" y1="515.05" x2="622.1" y2="515.05"/>
<line x1="72.2" y1="503.91" x2="79.4" y2="503.91"/>
<line x1="629.3" y1="503.91" x2="622.1" y2="503.91"/>
<line x1="72.2" y1="492.78" x2="79.4" y2="492.78"/>
<line x1="629.3" y1="492.78" x2="622.1" y2="492.78"/>
<line x1="72.2" y1="481.64" x2="86.4" y2="481.64"/>
<line x1="629.3" y1="481.64" x2="615.1" y2="481.64"/>
<line x1="72.2" y1="470.5" x2="79.4" y2="470.5"/>
<line x1="629.3" y1="470.5" x2="622.1" y2="470.5"/>
<line x1="72.2" y1="459.37" x2="79.4" y2="459.37"/>
<line x1="629.3" y1="459.37" x2="622.1" y2="459.37"/>
<line x1="72.2" y1="448.23" x2="79.4" y2="448.23"/>
<line x1="629.3" y1="448.23" x2="622.1" y2="448.23"/>
<line x1="72.2" y1="437.1" x2="79.4" y2="437.1"/>
<line x1="629.3" y1="437.1" x2="622.1" y2="437.1"/>
<line x1="72.2" y1="425.96" x2="86.4" y2="425.96"/>
<line x1="629.3" y1="425.96" x2="615.1" y2="425.96"/>
<line x1="72.2" y1="414.82" x2="79.4" y2="414.82"/>
<line x1="629.3" y1="414.82" x2="622.1" y2="414.82"/>
<line x1="72.2" y1="403.69" x2="79.4" y2="403.69"/>
<line x1="629.3" y1="403.69" x2="622.1" y2="403.69"/>
<line x1="72.2" y1="392.55" x2="79.4" y2="392.55"/>
<line x1="629.3" y1="392.55" x2="622.1" y2="392.55"/>
<line x1="72.2" y1="381.42" x2="79.4" y2="381.42"/>
<line x1="629.3" y1="381.42" x2="622.1" y2="381.42"/>
<line x1="72.2" y1="370.28" x2="86.4" y2="370.28"/>
<line x1="629.3" y1="370.28" x2="615.1" y2="370.28"/>
<line x1="72.2" y1="359.14" x2="79.4" y2="359.14"/>
<line x1="629.3" y1="359.14" x2="622.1" y2="359.14"/>
<line x1="72.2" y1="348.01" x2="79.4" y2="348.01"/>
<line x1="629.3" y1="348.01" x2="622.1" y2="348.01"/>
<line x1="72.2" y1="336.87" x2="79.4" y2="336.87"/>
<line x1="629.3" y1="336.87" x2="622.1" y2="336.87"/>
<line x1="72.2" y1="325.74" x2="79.4" y2="325.74"/>
<line x1="629.3" y1="325.74" x2="622.1" y2="325.74"/>
</g>
<text x="26.6" y="42.7" font-size="19.7" font-family="Liberation Sans, sans-serif" fill="#000" text-anchor="start" textLength="35.1" lengthAdjust="spacingAndGlyphs">300</text>
<text x="26.6" y="135.5" font-size="19.7" font-family="Liberation Sans, sans-serif" fill="#000" text-anchor="start" textLength="35.1" lengthAdjust="spacingAndGlyphs">200</text>
<text x="26.6" y="228.3" font-size="19.7" font-family="Liberation Sans, sans-serif" fill="#000" text-anchor="start" textLength="35.1" lengthAdjust="spacingAndGlyphs">100</text>
<text x="26.6" y="321.1" font-size="19.7" font-family="Liberation Sans, sans-serif" fill="#000" text-anchor="start" textLength="35.1" lengthAdjust="spacingAndGlyphs">500</text>
<text x="26.6" y="376.78" font-size="19.7" font-family="Liberation Sans, sans-serif" fill="#000" text-anchor="start" textLength="35.1" lengthAdjust="spacingAndGlyphs">400</text>
<text x="26.6" y="432.46" font-size="19.7" font-family="Liberation Sans, sans-serif" fill="#000" text-anchor="start" textLength="35.1" lengthAdjust="spacingAndGlyphs">300</text>
<text x="26.6" y="488.14" font-size="19.7" font-family="Liberation Sans, sans-serif" fill="#000" text-anchor="start" textLength="35.1" lengthAdjust="spacingAndGlyphs">200</text>
<text x="26.6" y="543.82" font-size="19.7" font-family="Liberation Sans, sans-serif" fill="#000" text-anchor="start" textLength="35.1" lengthAdjust="spacingAndGlyphs">100</text>
<text x="49.8" y="599.5" font-size="19.7" font-family="Liberation Sans, sans-serif" fill="#000" text-anchor="start" textLength="11.7" lengthAdjust="spacingAndGlyphs">0</text>
<text x="66.6" y="616.2" font-size="19.7" font-family="Liberation Sans, sans-serif" fill="#000" text-anchor="start" textLength="11.7" lengthAdjust="spacingAndGlyphs">1</text>
<text x="389.8" y="616.2" font-size="19.7" font-family="Liberation Sans, sans-serif" fill="#000" text-anchor="start" textLength="22.4" lengthAdjust="spacingAndGlyphs">10</text>
<text x="268.2" y="24.7" font-size="21" font-family="Liberation Serif, serif" fill="#000" text-anchor="start" textLength="45.4" lengthAdjust="spacingAndGlyphs" stroke="#000" stroke-width="0.1">GMP</text>
<text x="324.9" y="24.7" font-size="21" font-family="Liberation Serif, serif" fill="#000" text-anchor="start" textLength="51.2" lengthAdjust="spacing" stroke="#000" stroke-width="0.1">0144</text>
<text x="308.9" y="643.8" font-size="19.5" font-family="Liberation Serif, serif" fill="#000" text-anchor="start" textLength="82.6" lengthAdjust="spacingAndGlyphs" stroke="#000" stroke-width="0.1">R,arcsec</text>
<text x="89.1" y="92.6" font-size="23" font-family="Liberation Serif, serif" fill="#000" text-anchor="start" textLength="13.3" lengthAdjust="spacingAndGlyphs" stroke="#000" stroke-width="0.3">A</text>
<text x="89.6" y="365" font-size="23" font-family="Liberation Serif, serif" fill="#000" text-anchor="start" textLength="13.6" lengthAdjust="spacingAndGlyphs" stroke="#000" stroke-width="0.2">B</text>
<text x="546" y="64.4" font-size="23.5" font-family="Liberation Serif, serif" fill="#ff0000" text-anchor="start" font-style="italic" stroke="#ff0000" stroke-width="0.14">&#963;</text>
<text x="559.6" y="69.8" font-size="14.5" font-family="Liberation Serif, serif" fill="#ff0000" text-anchor="start" font-weight="bold">p</text>
<text x="569.8" y="64.6" font-size="24" font-family="Liberation Serif, serif" fill="#ff0000" text-anchor="start" stroke="#ff0000" stroke-width="0.14">(</text>
<text x="578.2" y="64.4" font-size="20.5" font-family="Liberation Serif, serif" fill="#ff0000" text-anchor="start" stroke="#ff0000" stroke-width="0.14">R</text>
<text x="593" y="64.6" font-size="24" font-family="Liberation Serif, serif" fill="#ff0000" text-anchor="start" stroke="#ff0000" stroke-width="0.14">)</text>
<text x="546.4" y="105.4" font-size="20.5" font-family="Liberation Serif, serif" fill="#0000ff" text-anchor="start" textLength="13.6" lengthAdjust="spacingAndGlyphs" stroke="#0000ff" stroke-width="0.14">V</text>
<text x="560" y="111.9" font-size="13" font-family="Liberation Serif, serif" fill="#0000ff" text-anchor="start" textLength="19.9" lengthAdjust="spacingAndGlyphs" font-weight="bold">rot</text>
<text x="580.7" y="105.6" font-size="24" font-family="Liberation Serif, serif" fill="#0000ff" text-anchor="start" stroke="#0000ff" stroke-width="0.14">(</text>
<text x="588.5" y="105.4" font-size="20.5" font-family="Liberation Serif, serif" fill="#0000ff" text-anchor="start" textLength="15.4" lengthAdjust="spacingAndGlyphs" stroke="#0000ff" stroke-width="0.14">R</text>
<text x="604.8" y="105.6" font-size="24" font-family="Liberation Serif, serif" fill="#0000ff" text-anchor="start" stroke="#0000ff" stroke-width="0.14">)</text>
<text x="546.4" y="147.5" font-size="20.5" font-family="Liberation Serif, serif" fill="#000" text-anchor="start" textLength="13.6" lengthAdjust="spacingAndGlyphs" stroke="#000" stroke-width="0.14">V</text>
<text x="560" y="153.8" font-size="13" font-family="Liberation Serif, serif" fill="#000" text-anchor="start" textLength="25.3" lengthAdjust="spacingAndGlyphs" font-weight="bold">rms</text>
<text x="586.6" y="147.7" font-size="24" font-family="Liberation Serif, serif" fill="#000" text-anchor="start" stroke="#000" stroke-width="0.14">(</text>
<text x="594.5" y="147.5" font-size="20.5" font-family="Liberation Serif, serif" fill="#000" text-anchor="start" textLength="15" lengthAdjust="spacingAndGlyphs" stroke="#000" stroke-width="0.14">R</text>
<text x="610.2" y="147.7" font-size="24" font-family="Liberation Serif, serif" fill="#000" text-anchor="start" stroke="#000" stroke-width="0.14">)</text>
<text x="546.4" y="542.8" font-size="20.5" font-family="Liberation Serif, serif" fill="#000" text-anchor="start" textLength="13.6" lengthAdjust="spacingAndGlyphs" stroke="#000" stroke-width="0.14">V</text>
<text x="560" y="536.1" font-size="12" font-family="Liberation Serif, serif" fill="#000" text-anchor="start" textLength="33.1" lengthAdjust="spacingAndGlyphs" font-weight="bold">Schw</text>
<text x="560" y="549.1" font-size="13" font-family="Liberation Serif, serif" fill="#000" text-anchor="start" font-weight="bold">c</text>
<text x="594.2" y="543" font-size="24" font-family="Liberation Serif, serif" fill="#000" text-anchor="start" stroke="#000" stroke-width="0.14">(</text>
<text x="603.4" y="542.8" font-size="21" font-family="Liberation Serif, serif" fill="#000" text-anchor="start" textLength="9.8" lengthAdjust="spacingAndGlyphs" stroke="#000" stroke-width="0.14">r</text>
<text x="614.4" y="543" font-size="24" font-family="Liberation Serif, serif" fill="#000" text-anchor="start" stroke="#000" stroke-width="0.14">)</text>
<text x="546.4" y="575.9" font-size="20.5" font-family="Liberation Serif, serif" fill="#0000ff" text-anchor="start" textLength="13.6" lengthAdjust="spacingAndGlyphs" stroke="#0000ff" stroke-width="0.14">V</text>
<text x="560" y="570.4" font-size="12" font-family="Liberation Serif, serif" fill="#0000ff" text-anchor="start" textLength="18.1" lengthAdjust="spacingAndGlyphs" font-weight="bold">iso</text>
<text x="560" y="582.7" font-size="13" font-family="Liberation Serif, serif" fill="#0000ff" text-anchor="start" font-weight="bold">c</text>
<text x="579.8" y="576.1" font-size="24" font-family="Liberation Serif, serif" fill="#0000ff" text-anchor="start" stroke="#0000ff" stroke-width="0.14">(</text>
<text x="588.8" y="575.9" font-size="21" font-family="Liberation Serif, serif" fill="#0000ff" text-anchor="start" textLength="9.4" lengthAdjust="spacingAndGlyphs" stroke="#0000ff" stroke-width="0.14">r</text>
<text x="599.5" y="576.1" font-size="24" font-family="Liberation Serif, serif" fill="#0000ff" text-anchor="start" stroke="#0000ff" stroke-width="0.14">)</text>
<text x="106.5" y="509.9" font-size="20.6" font-family="Liberation Serif, serif" fill="#000" text-anchor="start" textLength="58.8" lengthAdjust="spacingAndGlyphs" stroke="#000" stroke-width="0.14">local:</text>
<text x="228.2" y="509.8" font-size="20.6" font-family="Liberation Serif, serif" fill="#000" text-anchor="start" textLength="74.2" lengthAdjust="spacingAndGlyphs" stroke="#000" stroke-width="0.14">global:</text>
<rect x="105.85" y="533.45" width="7.7" height="7.7" fill="none" stroke="#0000ff" stroke-width="1.3"/>
<text x="123.2" y="543.1" font-size="20.5" font-family="Liberation Serif, serif" fill="#0000ff" text-anchor="start" textLength="14.4" lengthAdjust="spacingAndGlyphs" stroke="#0000ff" stroke-width="0.14">V</text>
<text x="136" y="549.2" font-size="13" font-family="Liberation Serif, serif" fill="#0000ff" text-anchor="start" font-weight="bold">c</text>
<text x="144.1" y="543.3" font-size="24" font-family="Liberation Serif, serif" fill="#0000ff" text-anchor="start" stroke="#0000ff" stroke-width="0.14">(</text>
<text x="153.1" y="543.1" font-size="20.5" font-family="Liberation Serif, serif" fill="#0000ff" text-anchor="start" stroke="#0000ff" stroke-width="0.14">R</text>
<text x="167.4" y="549.2" font-size="13" font-family="Liberation Serif, serif" fill="#0000ff" text-anchor="start" textLength="36.3" lengthAdjust="spacingAndGlyphs" font-weight="bold">sweet</text>
<text x="204.6" y="543.3" font-size="24" font-family="Liberation Serif, serif" fill="#0000ff" text-anchor="start" stroke="#0000ff" stroke-width="0.14">)</text>
<rect x="105.85" y="566.75" width="7.7" height="7.7" fill="none" stroke="#a020f0" stroke-width="1.3"/>
<text x="123.2" y="576.4" font-size="20.5" font-family="Liberation Serif, serif" fill="#a020f0" text-anchor="start" textLength="14.4" lengthAdjust="spacingAndGlyphs" stroke="#a020f0" stroke-width="0.14">V</text>
<text x="136" y="582.5" font-size="13" font-family="Liberation Serif, serif" fill="#a020f0" text-anchor="start" font-weight="bold">c</text>
<text x="144.1" y="576.6" font-size="24" font-family="Liberation Serif, serif" fill="#a020f0" text-anchor="start" stroke="#a020f0" stroke-width="0.14">(</text>
<text x="153.1" y="576.4" font-size="20.5" font-family="Liberation Serif, serif" fill="#a020f0" text-anchor="start" stroke="#a020f0" stroke-width="0.14">R</text>
<text x="167.4" y="582.3" font-size="13" font-family="Liberation Serif, serif" fill="#a020f0" text-anchor="start" font-weight="bold">2</text>
<text x="175.2" y="576.6" font-size="24" font-family="Liberation Serif, serif" fill="#a020f0" text-anchor="start" stroke="#a020f0" stroke-width="0.14">)</text>
<rect x="108.95" y="553.75" width="1.5" height="1.5" fill="#a020f0"/>
<rect x="108.95" y="558.75" width="1.5" height="1.5" fill="#a020f0"/>
<rect x="108.95" y="563.55" width="1.5" height="1.5" fill="#a020f0"/>
<rect x="108.95" y="580.15" width="1.5" height="1.5" fill="#a020f0"/>
<rect x="108.95" y="584.85" width="1.5" height="1.5" fill="#a020f0"/>
<rect x="224.9" y="533.2" width="7.4" height="7.4" fill="#00ced1"/>
<polyline points="241.1,532.4 244.2,531.4 251.2,542.3 261.1,522.4 331.3,522.4" fill="none" stroke="#00ced1" stroke-width="1.4" stroke-linejoin="round"/>
<text x="262.4" y="542.3" font-size="20.5" font-family="Liberation Serif, serif" fill="#00ced1" text-anchor="start" stroke="#00ced1" stroke-width="0.14">3</text>
<polyline points="289.4,530.3 275.4,536.3 289.4,542.3" fill="none" stroke="#00ced1" stroke-width="1.4" stroke-linejoin="round"/>
<text x="291.3" y="542.3" font-size="23.5" font-family="Liberation Serif, serif" fill="#00ced1" text-anchor="start" font-style="italic" stroke="#00ced1" stroke-width="0.14">&#963;</text>
<text x="306" y="536.7" font-size="12" font-family="Liberation Serif, serif" fill="#00ced1" text-anchor="start" textLength="7" lengthAdjust="spacingAndGlyphs" font-weight="bold">2</text>
<text x="306" y="548.1" font-size="13" font-family="Liberation Serif, serif" fill="#00ced1" text-anchor="start" textLength="7.2" lengthAdjust="spacingAndGlyphs" font-weight="bold">p</text>
<polyline points="315,530.3 328.4,536.3 315,542.3" fill="none" stroke="#00ced1" stroke-width="1.4" stroke-linejoin="round"/>
<rect x="224.9" y="567.6" width="7.4" height="7.4" fill="#006400"/>
<polyline points="241.1,566.8 244.2,565.8 251.2,576.7 261.1,556.8 349,556.8" fill="none" stroke="#006400" stroke-width="1.4" stroke-linejoin="round"/>
<text x="262.4" y="576.7" font-size="20.5" font-family="Liberation Serif, serif" fill="#006400" text-anchor="start" stroke="#006400" stroke-width="0.14">3</text>
<polyline points="289.4,564.7 275.4,570.7 289.4,576.7" fill="none" stroke="#006400" stroke-width="1.4" stroke-linejoin="round"/>
<text x="291.3" y="576.7" font-size="20.5" font-family="Liberation Serif, serif" fill="#006400" text-anchor="start" textLength="13.6" lengthAdjust="spacingAndGlyphs" stroke="#006400" stroke-width="0.14">V</text>
<text x="306" y="571.1" font-size="12" font-family="Liberation Serif, serif" fill="#006400" text-anchor="start" textLength="7" lengthAdjust="spacingAndGlyphs" font-weight="bold">2</text>
<text x="304.8" y="583" font-size="13" font-family="Liberation Serif, serif" fill="#006400" text-anchor="start" textLength="25.9" lengthAdjust="spacingAndGlyphs" font-weight="bold">rms</text>
<polyline points="333,564.7 346,570.7 333,576.7" fill="none" stroke="#006400" stroke-width="1.4" stroke-linejoin="round"/>
<g transform="translate(17.3 233.2) rotate(-90)">
<text x="-0.2" y="0" font-size="20.5" font-family="Liberation Serif, serif" fill="#000" text-anchor="start" textLength="12" lengthAdjust="spacingAndGlyphs" stroke="#000" stroke-width="0.14">V</text>
<text x="12.2" y="5.5" font-size="14" font-family="Liberation Serif, serif" fill="#000" text-anchor="start" textLength="21.8" lengthAdjust="spacingAndGlyphs" font-weight="bold">rms</text>
<text x="36" y="1.2" font-size="18" font-family="Liberation Serif, serif" fill="#000" text-anchor="start" stroke="#000" stroke-width="0.14">,</text>
<text x="49.8" y="0" font-size="20.5" font-family="Liberation Serif, serif" fill="#000" text-anchor="start" textLength="30" lengthAdjust="spacingAndGlyphs" stroke="#000" stroke-width="0.14">km</text>
<text x="90.8" y="0" font-size="20.5" font-family="Liberation Serif, serif" fill="#000" text-anchor="start" textLength="8.8" lengthAdjust="spacingAndGlyphs" stroke="#000" stroke-width="0.14">s</text>
<text x="101.4" y="-6.6" font-size="12.5" font-family="Liberation Serif, serif" fill="#000" text-anchor="start" textLength="13.2" lengthAdjust="spacingAndGlyphs" font-weight="bold">&#8722;1</text>
</g>
<g transform="translate(17.3 503.1) rotate(-90)">
<text x="-0.2" y="0" font-size="20.5" font-family="Liberation Serif, serif" fill="#000" text-anchor="start" textLength="12" lengthAdjust="spacingAndGlyphs" stroke="#000" stroke-width="0.14">V</text>
<text x="12.6" y="5.5" font-size="14" font-family="Liberation Serif, serif" fill="#000" text-anchor="start" font-weight="bold">c</text>
<text x="20.7" y="1.2" font-size="18" font-family="Liberation Serif, serif" fill="#000" text-anchor="start" stroke="#000" stroke-width="0.14">,</text>
<text x="33.6" y="0" font-size="20.5" font-family="Liberation Serif, serif" fill="#000" text-anchor="start" textLength="29.2" lengthAdjust="spacingAndGlyphs" stroke="#000" stroke-width="0.14">km</text>
<text x="73.1" y="0" font-size="20.5" font-family="Liberation Serif, serif" fill="#000" text-anchor="start" textLength="8.8" lengthAdjust="spacingAndGlyphs" stroke="#000" stroke-width="0.14">s</text>
<text x="83.8" y="-6.6" font-size="12.5" font-family="Liberation Serif, serif" fill="#000" text-anchor="start" textLength="13" lengthAdjust="spacingAndGlyphs" font-weight="bold">&#8722;1</text>
</g>
</svg>
</body></html>
